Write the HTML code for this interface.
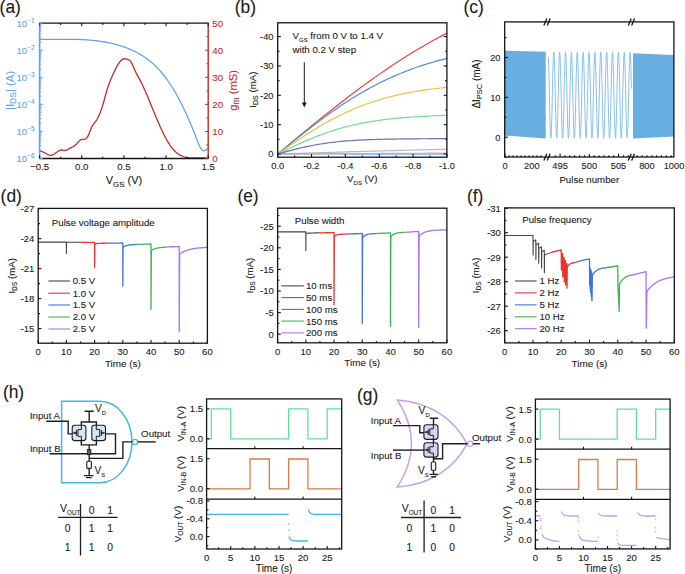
<!DOCTYPE html>
<html><head><meta charset="utf-8"><style>
html,body{margin:0;padding:0;background:#fff;width:685px;height:574px;overflow:hidden}
svg{display:block;font-family:"Liberation Sans",sans-serif}
text{stroke:currentColor;stroke-width:0.1px}
</style></head><body>
<svg width="685" height="574" viewBox="0 0 685 574">
<rect width="685" height="574" fill="#fff"/>
<text transform="translate(-0.4,13.2) scale(1,1.06)" font-size="17.4" text-anchor="start" fill="#1a1a1a" style="color:#1a1a1a" >(a)</text>
<path d="M39.7,39.25 L41.11,39.28 L42.53,39.3 L43.94,39.31 L45.36,39.32 L46.77,39.33 L48.19,39.33 L49.6,39.34 L51.01,39.34 L52.43,39.33 L53.84,39.33 L55.26,39.32 L56.67,39.32 L58.09,39.31 L59.5,39.3 L60.91,39.3 L62.33,39.3 L63.74,39.29 L65.16,39.29 L66.57,39.3 L67.99,39.3 L69.4,39.31 L70.81,39.32 L72.23,39.34 L73.64,39.36 L75.06,39.39 L76.47,39.42 L77.89,39.46 L79.3,39.51 L80.71,39.56 L82.13,39.62 L83.54,39.69 L84.96,39.77 L86.37,39.85 L87.79,39.95 L89.2,40.05 L90.61,40.17 L92.03,40.3 L93.44,40.43 L94.86,40.58 L96.27,40.74 L97.69,40.92 L99.1,41.1 L100.51,41.3 L101.93,41.52 L103.34,41.74 L104.76,41.99 L106.17,42.24 L107.59,42.52 L109,42.81 L110.41,43.11 L111.83,43.44 L113.24,43.78 L114.66,44.14 L116.07,44.52 L117.49,44.91 L118.9,45.33 L120.31,45.76 L121.73,46.22 L123.14,46.69 L124.56,47.19 L125.97,47.71 L127.39,48.25 L128.8,48.81 L130.21,49.4 L131.63,50.01 L133.04,50.65 L134.46,51.32 L135.87,52.01 L137.29,52.74 L138.7,53.51 L140.11,54.31 L141.53,55.16 L142.94,56.04 L144.36,56.97 L145.77,57.94 L147.19,58.96 L148.6,60.04 L150.01,61.16 L151.43,62.34 L152.84,63.57 L154.26,64.87 L155.67,66.22 L157.09,67.64 L158.5,69.12 L159.91,70.67 L161.33,72.29 L162.74,73.98 L164.16,75.74 L165.57,77.58 L166.99,79.5 L168.4,81.5 L169.81,83.58 L171.23,85.74 L172.64,87.98 L174.06,90.3 L175.47,92.71 L176.89,95.2 L178.3,97.78 L179.71,100.44 L181.13,103.18 L182.54,106.01 L183.96,108.92 L185.37,111.92 L186.79,115.01 L188.2,118.18 L189.61,121.44 L191.03,124.78 L192.44,128.22 L193.86,131.74 L195.27,135.35 L196.69,139.04 L198.1,142.67 L199.51,145.97 L200.93,148.64 L202.34,150.4 L203.76,150.96 L205.17,150.4 L206.59,149.45 L208,148.95" stroke="#64a0f0" stroke-width="1.3" fill="none" stroke-linejoin="round" />
<path d="M39.6,151.21 L40.3,151.19 L41,151.27 L41.7,151.44 L42.4,151.69 L43.1,151.99 L43.8,152.34 L44.5,152.72 L45.2,153.11 L45.9,153.52 L46.6,153.91 L47.3,154.28 L48.01,154.61 L48.71,154.89 L49.41,155.1 L50.11,155.24 L50.81,155.29 L51.51,155.23 L52.21,155.05 L52.91,154.78 L53.61,154.42 L54.31,153.99 L55.01,153.52 L55.71,153.01 L56.41,152.49 L57.11,151.98 L57.81,151.49 L58.51,151.03 L59.21,150.64 L59.91,150.32 L60.61,150.1 L61.31,149.98 L62.01,149.98 L62.71,150.05 L63.41,150.17 L64.11,150.27 L64.82,150.33 L65.52,150.3 L66.22,150.15 L66.92,149.89 L67.62,149.56 L68.32,149.17 L69.02,148.75 L69.72,148.33 L70.42,147.93 L71.12,147.56 L71.82,147.21 L72.52,146.86 L73.22,146.5 L73.92,146.1 L74.62,145.64 L75.32,145.1 L76.02,144.46 L76.72,143.72 L77.42,142.93 L78.12,142.13 L78.82,141.37 L79.52,140.69 L80.22,140.13 L80.92,139.74 L81.63,139.52 L82.33,139.43 L83.03,139.4 L83.73,139.38 L84.43,139.31 L85.13,139.13 L85.83,138.78 L86.53,138.21 L87.23,137.36 L87.93,136.16 L88.63,134.64 L89.33,132.9 L90.03,131.07 L90.73,129.27 L91.43,127.64 L92.13,126.27 L92.83,125.13 L93.53,124.14 L94.23,123.25 L94.93,122.37 L95.63,121.43 L96.33,120.39 L97.03,119.25 L97.73,117.99 L98.44,116.62 L99.14,115.12 L99.84,113.5 L100.54,111.74 L101.24,109.85 L101.94,107.81 L102.64,105.61 L103.34,103.27 L104.04,100.76 L104.74,98.15 L105.44,95.5 L106.14,92.9 L106.84,90.4 L107.54,88.09 L108.24,85.98 L108.94,84.04 L109.64,82.23 L110.34,80.51 L111.04,78.83 L111.74,77.18 L112.44,75.56 L113.14,73.97 L113.84,72.43 L114.54,70.93 L115.25,69.49 L115.95,68.1 L116.65,66.79 L117.35,65.55 L118.05,64.39 L118.75,63.32 L119.45,62.34 L120.15,61.47 L120.85,60.7 L121.55,60.05 L122.25,59.52 L122.95,59.12 L123.65,58.85 L124.35,58.73 L125.05,58.74 L125.75,58.86 L126.45,59.05 L127.15,59.27 L127.85,59.49 L128.55,59.73 L129.25,60.07 L129.95,60.6 L130.65,61.4 L131.35,62.5 L132.06,63.84 L132.76,65.35 L133.46,66.97 L134.16,68.63 L134.86,70.26 L135.56,71.81 L136.26,73.25 L136.96,74.61 L137.66,75.91 L138.36,77.17 L139.06,78.43 L139.76,79.69 L140.46,81 L141.16,82.36 L141.86,83.76 L142.56,85.2 L143.26,86.68 L143.96,88.2 L144.66,89.75 L145.36,91.34 L146.06,92.95 L146.76,94.58 L147.46,96.24 L148.16,97.92 L148.87,99.6 L149.57,101.31 L150.27,103.02 L150.97,104.73 L151.67,106.45 L152.37,108.17 L153.07,109.88 L153.77,111.59 L154.47,113.29 L155.17,114.99 L155.87,116.67 L156.57,118.34 L157.27,119.99 L157.97,121.63 L158.67,123.24 L159.37,124.84 L160.07,126.41 L160.77,127.96 L161.47,129.49 L162.17,130.98 L162.87,132.45 L163.57,133.88 L164.27,135.28 L164.97,136.64 L165.68,137.97 L166.38,139.26 L167.08,140.5 L167.78,141.7 L168.48,142.86 L169.18,143.97 L169.88,145.03 L170.58,146.04 L171.28,147 L171.98,147.9 L172.68,148.76 L173.38,149.56 L174.08,150.32 L174.78,151.03 L175.48,151.7 L176.18,152.32 L176.88,152.9 L177.58,153.45 L178.28,153.95 L178.98,154.41 L179.68,154.84 L180.38,155.23 L181.08,155.59 L181.78,155.92 L182.49,156.22 L183.19,156.48 L183.89,156.72 L184.59,156.94 L185.29,157.13 L185.99,157.29 L186.69,157.43 L187.39,157.56 L188.09,157.66 L188.79,157.74 L189.49,157.81 L190.19,157.86 L190.89,157.9 L191.59,157.93 L192.29,157.95 L192.99,157.96 L193.69,157.96 L194.39,157.95 L195.09,157.94 L195.79,157.92 L196.49,157.9 L197.19,157.89 L197.89,157.87 L198.59,157.85 L199.3,157.84 L200,157.83 L200.7,157.83 L201.4,157.83 L202.1,157.85 L202.8,157.88 L203.5,157.91 L204.2,157.96 L204.9,158.03 L205.6,158.11 L206.3,158.21 L207,158.33" stroke="#c42a26" stroke-width="1.3" fill="none" stroke-linejoin="round" />
<line x1="39.6" y1="23.1" x2="208.2" y2="23.1" stroke="#141414" stroke-width="1.3" />
<line x1="39.6" y1="158.5" x2="208.2" y2="158.5" stroke="#141414" stroke-width="1.3" />
<line x1="39.6" y1="22.5" x2="39.6" y2="159.1" stroke="#64a0f0" stroke-width="1.6" />
<line x1="208.2" y1="22.5" x2="208.2" y2="159.1" stroke="#c42a26" stroke-width="1.4" />
<line x1="39.6" y1="158.5" x2="39.6" y2="155.3" stroke="#141414" stroke-width="1.1" />
<line x1="39.6" y1="23.1" x2="39.6" y2="26.3" stroke="#141414" stroke-width="1.1" />
<line x1="81.75" y1="158.5" x2="81.75" y2="155.3" stroke="#141414" stroke-width="1.1" />
<line x1="81.75" y1="23.1" x2="81.75" y2="26.3" stroke="#141414" stroke-width="1.1" />
<line x1="123.9" y1="158.5" x2="123.9" y2="155.3" stroke="#141414" stroke-width="1.1" />
<line x1="123.9" y1="23.1" x2="123.9" y2="26.3" stroke="#141414" stroke-width="1.1" />
<line x1="166.05" y1="158.5" x2="166.05" y2="155.3" stroke="#141414" stroke-width="1.1" />
<line x1="166.05" y1="23.1" x2="166.05" y2="26.3" stroke="#141414" stroke-width="1.1" />
<line x1="208.2" y1="158.5" x2="208.2" y2="155.3" stroke="#141414" stroke-width="1.1" />
<line x1="208.2" y1="23.1" x2="208.2" y2="26.3" stroke="#141414" stroke-width="1.1" />
<line x1="60.67" y1="158.5" x2="60.67" y2="156.7" stroke="#141414" stroke-width="1.1" />
<line x1="60.67" y1="23.1" x2="60.67" y2="24.9" stroke="#141414" stroke-width="1.1" />
<line x1="102.82" y1="158.5" x2="102.82" y2="156.7" stroke="#141414" stroke-width="1.1" />
<line x1="102.82" y1="23.1" x2="102.82" y2="24.9" stroke="#141414" stroke-width="1.1" />
<line x1="144.97" y1="158.5" x2="144.97" y2="156.7" stroke="#141414" stroke-width="1.1" />
<line x1="144.97" y1="23.1" x2="144.97" y2="24.9" stroke="#141414" stroke-width="1.1" />
<line x1="187.12" y1="158.5" x2="187.12" y2="156.7" stroke="#141414" stroke-width="1.1" />
<line x1="187.12" y1="23.1" x2="187.12" y2="24.9" stroke="#141414" stroke-width="1.1" />
<text transform="translate(39.6,169.81)" font-size="9.6" text-anchor="middle" fill="#1a1a1a" style="color:#1a1a1a" >−0.5</text>
<text transform="translate(81.75,169.81)" font-size="9.6" text-anchor="middle" fill="#1a1a1a" style="color:#1a1a1a" >0.0</text>
<text transform="translate(123.9,169.81)" font-size="9.6" text-anchor="middle" fill="#1a1a1a" style="color:#1a1a1a" >0.5</text>
<text transform="translate(166.05,169.81)" font-size="9.6" text-anchor="middle" fill="#1a1a1a" style="color:#1a1a1a" >1.0</text>
<text transform="translate(208.2,169.81)" font-size="9.6" text-anchor="middle" fill="#1a1a1a" style="color:#1a1a1a" >1.5</text>
<line x1="39.6" y1="23.1" x2="42.8" y2="23.1" stroke="#64a0f0" stroke-width="1.0" />
<line x1="39.6" y1="42.03" x2="41.4" y2="42.03" stroke="#64a0f0" stroke-width="0.9" />
<line x1="39.6" y1="37.26" x2="41.4" y2="37.26" stroke="#64a0f0" stroke-width="0.9" />
<line x1="39.6" y1="33.88" x2="41.4" y2="33.88" stroke="#64a0f0" stroke-width="0.9" />
<line x1="39.6" y1="31.25" x2="41.4" y2="31.25" stroke="#64a0f0" stroke-width="0.9" />
<line x1="39.6" y1="29.11" x2="41.4" y2="29.11" stroke="#64a0f0" stroke-width="0.9" />
<line x1="39.6" y1="27.29" x2="41.4" y2="27.29" stroke="#64a0f0" stroke-width="0.9" />
<line x1="39.6" y1="25.72" x2="41.4" y2="25.72" stroke="#64a0f0" stroke-width="0.9" />
<line x1="39.6" y1="24.34" x2="41.4" y2="24.34" stroke="#64a0f0" stroke-width="0.9" />
<text transform="translate(34.6,26.6)" font-size="9.6" text-anchor="end" fill="#64a0f0" style="color:#64a0f0" >10<tspan font-size="6.53" dy="-3.65">−1</tspan><tspan dy="3.65">&#8203;</tspan></text>
<line x1="39.6" y1="50.18" x2="42.8" y2="50.18" stroke="#64a0f0" stroke-width="1.0" />
<line x1="39.6" y1="69.11" x2="41.4" y2="69.11" stroke="#64a0f0" stroke-width="0.9" />
<line x1="39.6" y1="64.34" x2="41.4" y2="64.34" stroke="#64a0f0" stroke-width="0.9" />
<line x1="39.6" y1="60.96" x2="41.4" y2="60.96" stroke="#64a0f0" stroke-width="0.9" />
<line x1="39.6" y1="58.33" x2="41.4" y2="58.33" stroke="#64a0f0" stroke-width="0.9" />
<line x1="39.6" y1="56.19" x2="41.4" y2="56.19" stroke="#64a0f0" stroke-width="0.9" />
<line x1="39.6" y1="54.37" x2="41.4" y2="54.37" stroke="#64a0f0" stroke-width="0.9" />
<line x1="39.6" y1="52.8" x2="41.4" y2="52.8" stroke="#64a0f0" stroke-width="0.9" />
<line x1="39.6" y1="51.42" x2="41.4" y2="51.42" stroke="#64a0f0" stroke-width="0.9" />
<text transform="translate(34.6,53.68)" font-size="9.6" text-anchor="end" fill="#64a0f0" style="color:#64a0f0" >10<tspan font-size="6.53" dy="-3.65">−2</tspan><tspan dy="3.65">&#8203;</tspan></text>
<line x1="39.6" y1="77.26" x2="42.8" y2="77.26" stroke="#64a0f0" stroke-width="1.0" />
<line x1="39.6" y1="96.19" x2="41.4" y2="96.19" stroke="#64a0f0" stroke-width="0.9" />
<line x1="39.6" y1="91.42" x2="41.4" y2="91.42" stroke="#64a0f0" stroke-width="0.9" />
<line x1="39.6" y1="88.04" x2="41.4" y2="88.04" stroke="#64a0f0" stroke-width="0.9" />
<line x1="39.6" y1="85.41" x2="41.4" y2="85.41" stroke="#64a0f0" stroke-width="0.9" />
<line x1="39.6" y1="83.27" x2="41.4" y2="83.27" stroke="#64a0f0" stroke-width="0.9" />
<line x1="39.6" y1="81.45" x2="41.4" y2="81.45" stroke="#64a0f0" stroke-width="0.9" />
<line x1="39.6" y1="79.88" x2="41.4" y2="79.88" stroke="#64a0f0" stroke-width="0.9" />
<line x1="39.6" y1="78.5" x2="41.4" y2="78.5" stroke="#64a0f0" stroke-width="0.9" />
<text transform="translate(34.6,80.76)" font-size="9.6" text-anchor="end" fill="#64a0f0" style="color:#64a0f0" >10<tspan font-size="6.53" dy="-3.65">−3</tspan><tspan dy="3.65">&#8203;</tspan></text>
<line x1="39.6" y1="104.34" x2="42.8" y2="104.34" stroke="#64a0f0" stroke-width="1.0" />
<line x1="39.6" y1="123.27" x2="41.4" y2="123.27" stroke="#64a0f0" stroke-width="0.9" />
<line x1="39.6" y1="118.5" x2="41.4" y2="118.5" stroke="#64a0f0" stroke-width="0.9" />
<line x1="39.6" y1="115.12" x2="41.4" y2="115.12" stroke="#64a0f0" stroke-width="0.9" />
<line x1="39.6" y1="112.49" x2="41.4" y2="112.49" stroke="#64a0f0" stroke-width="0.9" />
<line x1="39.6" y1="110.35" x2="41.4" y2="110.35" stroke="#64a0f0" stroke-width="0.9" />
<line x1="39.6" y1="108.53" x2="41.4" y2="108.53" stroke="#64a0f0" stroke-width="0.9" />
<line x1="39.6" y1="106.96" x2="41.4" y2="106.96" stroke="#64a0f0" stroke-width="0.9" />
<line x1="39.6" y1="105.58" x2="41.4" y2="105.58" stroke="#64a0f0" stroke-width="0.9" />
<text transform="translate(34.6,107.84)" font-size="9.6" text-anchor="end" fill="#64a0f0" style="color:#64a0f0" >10<tspan font-size="6.53" dy="-3.65">−4</tspan><tspan dy="3.65">&#8203;</tspan></text>
<line x1="39.6" y1="131.42" x2="42.8" y2="131.42" stroke="#64a0f0" stroke-width="1.0" />
<line x1="39.6" y1="150.35" x2="41.4" y2="150.35" stroke="#64a0f0" stroke-width="0.9" />
<line x1="39.6" y1="145.58" x2="41.4" y2="145.58" stroke="#64a0f0" stroke-width="0.9" />
<line x1="39.6" y1="142.2" x2="41.4" y2="142.2" stroke="#64a0f0" stroke-width="0.9" />
<line x1="39.6" y1="139.57" x2="41.4" y2="139.57" stroke="#64a0f0" stroke-width="0.9" />
<line x1="39.6" y1="137.43" x2="41.4" y2="137.43" stroke="#64a0f0" stroke-width="0.9" />
<line x1="39.6" y1="135.61" x2="41.4" y2="135.61" stroke="#64a0f0" stroke-width="0.9" />
<line x1="39.6" y1="134.04" x2="41.4" y2="134.04" stroke="#64a0f0" stroke-width="0.9" />
<line x1="39.6" y1="132.66" x2="41.4" y2="132.66" stroke="#64a0f0" stroke-width="0.9" />
<text transform="translate(34.6,134.92)" font-size="9.6" text-anchor="end" fill="#64a0f0" style="color:#64a0f0" >10<tspan font-size="6.53" dy="-3.65">−5</tspan><tspan dy="3.65">&#8203;</tspan></text>
<line x1="39.6" y1="158.5" x2="42.8" y2="158.5" stroke="#64a0f0" stroke-width="1.0" />
<text transform="translate(34.6,162)" font-size="9.6" text-anchor="end" fill="#64a0f0" style="color:#64a0f0" >10<tspan font-size="6.53" dy="-3.65">−6</tspan><tspan dy="3.65">&#8203;</tspan></text>
<line x1="208.2" y1="158.5" x2="205" y2="158.5" stroke="#c42a26" stroke-width="1.0" />
<text transform="translate(212.3,162)" font-size="9.7" text-anchor="start" fill="#c42a26" style="color:#c42a26" >0</text>
<line x1="208.2" y1="131.42" x2="205" y2="131.42" stroke="#c42a26" stroke-width="1.0" />
<text transform="translate(212.3,134.92)" font-size="9.7" text-anchor="start" fill="#c42a26" style="color:#c42a26" >10</text>
<line x1="208.2" y1="104.34" x2="205" y2="104.34" stroke="#c42a26" stroke-width="1.0" />
<text transform="translate(212.3,107.84)" font-size="9.7" text-anchor="start" fill="#c42a26" style="color:#c42a26" >20</text>
<line x1="208.2" y1="77.26" x2="205" y2="77.26" stroke="#c42a26" stroke-width="1.0" />
<text transform="translate(212.3,80.76)" font-size="9.7" text-anchor="start" fill="#c42a26" style="color:#c42a26" >30</text>
<line x1="208.2" y1="50.18" x2="205" y2="50.18" stroke="#c42a26" stroke-width="1.0" />
<text transform="translate(212.3,53.68)" font-size="9.7" text-anchor="start" fill="#c42a26" style="color:#c42a26" >40</text>
<line x1="208.2" y1="23.1" x2="205" y2="23.1" stroke="#c42a26" stroke-width="1.0" />
<text transform="translate(212.3,26.6)" font-size="9.7" text-anchor="start" fill="#c42a26" style="color:#c42a26" >50</text>
<line x1="208.2" y1="144.96" x2="206.4" y2="144.96" stroke="#c42a26" stroke-width="1.0" />
<line x1="208.2" y1="117.88" x2="206.4" y2="117.88" stroke="#c42a26" stroke-width="1.0" />
<line x1="208.2" y1="90.8" x2="206.4" y2="90.8" stroke="#c42a26" stroke-width="1.0" />
<line x1="208.2" y1="63.72" x2="206.4" y2="63.72" stroke="#c42a26" stroke-width="1.0" />
<line x1="208.2" y1="36.64" x2="206.4" y2="36.64" stroke="#c42a26" stroke-width="1.0" />
<text transform="translate(124,184)" font-size="11" text-anchor="middle" fill="#1a1a1a" style="color:#1a1a1a" >V<tspan font-size="7.92" dy="2.75">GS</tspan><tspan dy="-2.75">&#8203;</tspan> (V)</text>
<text transform="translate(13.8,90.4) rotate(-90)" font-size="11.3" text-anchor="middle" fill="#64a0f0" style="color:#64a0f0" >|I<tspan font-size="8.59" dy="2.26">DS</tspan><tspan dy="-2.26">&#8203;</tspan>| (A)</text>
<text transform="translate(237,90.3) rotate(-90)" font-size="11.3" text-anchor="middle" fill="#c42a26" style="color:#c42a26" >g<tspan font-size="8.36" dy="1.92">m</tspan><tspan dy="-1.92">&#8203;</tspan> (mS)</text>
<text transform="translate(234.8,13) scale(1,1.06)" font-size="17.4" text-anchor="start" fill="#1a1a1a" style="color:#1a1a1a" >(b)</text>
<path d="M277.7,154 L280.57,151.61 L283.44,149.23 L286.3,146.84 L289.17,144.46 L292.04,142.08 L294.91,139.7 L297.77,137.33 L300.64,134.96 L303.51,132.59 L306.38,130.24 L309.25,127.89 L312.11,125.55 L314.98,123.21 L317.85,120.89 L320.72,118.57 L323.58,116.27 L326.45,113.97 L329.32,111.69 L332.19,109.42 L335.06,107.16 L337.92,104.92 L340.79,102.68 L343.66,100.47 L346.53,98.26 L349.39,96.07 L352.26,93.9 L355.13,91.74 L358,89.6 L360.87,87.48 L363.73,85.38 L366.6,83.29 L369.47,81.22 L372.34,79.17 L375.21,77.13 L378.07,75.12 L380.94,73.13 L383.81,71.15 L386.68,69.2 L389.54,67.26 L392.41,65.35 L395.28,63.46 L398.15,61.59 L401.02,59.74 L403.88,57.91 L406.75,56.1 L409.62,54.32 L412.49,52.56 L415.35,50.81 L418.22,49.09 L421.09,47.4 L423.96,45.72 L426.83,44.07 L429.69,42.44 L432.56,40.83 L435.43,39.25 L438.3,37.68 L441.16,36.14 L444.03,34.62 L446.9,33.13" stroke="#e8413a" stroke-width="1.2" fill="none" stroke-linejoin="round" />
<path d="M277.7,154 L280.57,151.66 L283.44,149.33 L286.3,146.99 L289.17,144.67 L292.04,142.35 L294.91,140.04 L297.77,137.74 L300.64,135.46 L303.51,133.19 L306.38,130.94 L309.25,128.71 L312.11,126.49 L314.98,124.3 L317.85,122.13 L320.72,119.99 L323.58,117.87 L326.45,115.78 L329.32,113.71 L332.19,111.68 L335.06,109.68 L337.92,107.71 L340.79,105.77 L343.66,103.86 L346.53,101.99 L349.39,100.15 L352.26,98.35 L355.13,96.58 L358,94.85 L360.87,93.15 L363.73,91.49 L366.6,89.87 L369.47,88.28 L372.34,86.74 L375.21,85.22 L378.07,83.75 L380.94,82.31 L383.81,80.91 L386.68,79.54 L389.54,78.21 L392.41,76.91 L395.28,75.65 L398.15,74.43 L401.02,73.24 L403.88,72.08 L406.75,70.96 L409.62,69.86 L412.49,68.81 L415.35,67.78 L418.22,66.78 L421.09,65.82 L423.96,64.88 L426.83,63.98 L429.69,63.1 L432.56,62.25 L435.43,61.43 L438.3,60.63 L441.16,59.86 L444.03,59.12 L446.9,58.4" stroke="#4d8cd6" stroke-width="1.2" fill="none" stroke-linejoin="round" />
<path d="M277.7,154 L280.57,152.01 L283.44,150.02 L286.3,148.04 L289.17,146.07 L292.04,144.11 L294.91,142.17 L297.77,140.24 L300.64,138.34 L303.51,136.45 L306.38,134.59 L309.25,132.76 L312.11,130.96 L314.98,129.19 L317.85,127.46 L320.72,125.76 L323.58,124.09 L326.45,122.47 L329.32,120.88 L332.19,119.33 L335.06,117.82 L337.92,116.36 L340.79,114.93 L343.66,113.55 L346.53,112.21 L349.39,110.92 L352.26,109.66 L355.13,108.45 L358,107.28 L360.87,106.15 L363.73,105.06 L366.6,104.01 L369.47,103.01 L372.34,102.04 L375.21,101.1 L378.07,100.21 L380.94,99.35 L383.81,98.53 L386.68,97.74 L389.54,96.98 L392.41,96.26 L395.28,95.57 L398.15,94.91 L401.02,94.28 L403.88,93.67 L406.75,93.1 L409.62,92.55 L412.49,92.02 L415.35,91.53 L418.22,91.05 L421.09,90.6 L423.96,90.16 L426.83,89.75 L429.69,89.36 L432.56,88.99 L435.43,88.63 L438.3,88.3 L441.16,87.98 L444.03,87.67 L446.9,87.38" stroke="#e8c144" stroke-width="1.2" fill="none" stroke-linejoin="round" />
<path d="M277.7,154 L280.57,152.61 L283.44,151.22 L286.3,149.84 L289.17,148.46 L292.04,147.11 L294.91,145.76 L297.77,144.44 L300.64,143.14 L303.51,141.86 L306.38,140.61 L309.25,139.39 L312.11,138.2 L314.98,137.04 L317.85,135.92 L320.72,134.83 L323.58,133.77 L326.45,132.76 L329.32,131.78 L332.19,130.83 L335.06,129.93 L337.92,129.06 L340.79,128.23 L343.66,127.44 L346.53,126.68 L349.39,125.96 L352.26,125.27 L355.13,124.61 L358,123.99 L360.87,123.4 L363.73,122.84 L366.6,122.31 L369.47,121.81 L372.34,121.34 L375.21,120.89 L378.07,120.47 L380.94,120.07 L383.81,119.7 L386.68,119.34 L389.54,119.01 L392.41,118.7 L395.28,118.4 L398.15,118.13 L401.02,117.87 L403.88,117.62 L406.75,117.39 L409.62,117.18 L412.49,116.98 L415.35,116.79 L418.22,116.61 L421.09,116.45 L423.96,116.29 L426.83,116.15 L429.69,116.01 L432.56,115.89 L435.43,115.77 L438.3,115.66 L441.16,115.55 L444.03,115.45 L446.9,115.36" stroke="#6fde8e" stroke-width="1.2" fill="none" stroke-linejoin="round" />
<path d="M277.7,154 L280.57,153.2 L283.44,152.41 L286.3,151.63 L289.17,150.86 L292.04,150.11 L294.91,149.37 L297.77,148.66 L300.64,147.97 L303.51,147.31 L306.38,146.68 L309.25,146.08 L312.11,145.51 L314.98,144.97 L317.85,144.46 L320.72,143.99 L323.58,143.54 L326.45,143.13 L329.32,142.74 L332.19,142.39 L335.06,142.06 L337.92,141.75 L340.79,141.47 L343.66,141.21 L346.53,140.97 L349.39,140.76 L352.26,140.56 L355.13,140.38 L358,140.21 L360.87,140.06 L363.73,139.92 L366.6,139.8 L369.47,139.68 L372.34,139.58 L375.21,139.48 L378.07,139.4 L380.94,139.32 L383.81,139.25 L386.68,139.19 L389.54,139.13 L392.41,139.08 L395.28,139.03 L398.15,138.99 L401.02,138.95 L403.88,138.91 L406.75,138.88 L409.62,138.86 L412.49,138.83 L415.35,138.81 L418.22,138.79 L421.09,138.77 L423.96,138.75 L426.83,138.73 L429.69,138.72 L432.56,138.71 L435.43,138.7 L438.3,138.69 L441.16,138.68 L444.03,138.67 L446.9,138.66" stroke="#6d6fae" stroke-width="1.2" fill="none" stroke-linejoin="round" />
<path d="M277.7,154 L280.57,153.91 L283.44,153.82 L286.3,153.73 L289.17,153.64 L292.04,153.55 L294.91,153.46 L297.77,153.37 L300.64,153.29 L303.51,153.2 L306.38,153.11 L309.25,153.02 L312.11,152.93 L314.98,152.84 L317.85,152.75 L320.72,152.67 L323.58,152.58 L326.45,152.49 L329.32,152.41 L332.19,152.32 L335.06,152.23 L337.92,152.15 L340.79,152.06 L343.66,151.98 L346.53,151.89 L349.39,151.81 L352.26,151.72 L355.13,151.64 L358,151.56 L360.87,151.48 L363.73,151.39 L366.6,151.31 L369.47,151.23 L372.34,151.15 L375.21,151.07 L378.07,150.99 L380.94,150.91 L383.81,150.83 L386.68,150.76 L389.54,150.68 L392.41,150.6 L395.28,150.53 L398.15,150.45 L401.02,150.38 L403.88,150.3 L406.75,150.23 L409.62,150.16 L412.49,150.09 L415.35,150.01 L418.22,149.94 L421.09,149.87 L423.96,149.8 L426.83,149.73 L429.69,149.67 L432.56,149.6 L435.43,149.53 L438.3,149.47 L441.16,149.4 L444.03,149.34 L446.9,149.27" stroke="#b8b8b8" stroke-width="1.2" fill="none" stroke-linejoin="round" />
<path d="M277.7,154 L280.57,153.99 L283.44,153.97 L286.3,153.96 L289.17,153.94 L292.04,153.93 L294.91,153.91 L297.77,153.9 L300.64,153.88 L303.51,153.87 L306.38,153.85 L309.25,153.84 L312.11,153.82 L314.98,153.81 L317.85,153.79 L320.72,153.78 L323.58,153.76 L326.45,153.75 L329.32,153.73 L332.19,153.72 L335.06,153.7 L337.92,153.69 L340.79,153.67 L343.66,153.66 L346.53,153.64 L349.39,153.63 L352.26,153.61 L355.13,153.6 L358,153.58 L360.87,153.57 L363.73,153.55 L366.6,153.54 L369.47,153.52 L372.34,153.51 L375.21,153.49 L378.07,153.48 L380.94,153.46 L383.81,153.45 L386.68,153.43 L389.54,153.42 L392.41,153.4 L395.28,153.39 L398.15,153.37 L401.02,153.36 L403.88,153.34 L406.75,153.33 L409.62,153.31 L412.49,153.3 L415.35,153.28 L418.22,153.27 L421.09,153.25 L423.96,153.24 L426.83,153.22 L429.69,153.21 L432.56,153.19 L435.43,153.18 L438.3,153.16 L441.16,153.15 L444.03,153.13 L446.9,153.12" stroke="#f2a0a0" stroke-width="1.2" fill="none" stroke-linejoin="round" />
<path d="M277.7,154 L280.57,154 L283.44,154 L286.3,154 L289.17,154 L292.04,154 L294.91,154.01 L297.77,154.01 L300.64,154.01 L303.51,154.01 L306.38,154.01 L309.25,154.01 L312.11,154.01 L314.98,154.01 L317.85,154.01 L320.72,154.01 L323.58,154.02 L326.45,154.02 L329.32,154.02 L332.19,154.02 L335.06,154.02 L337.92,154.02 L340.79,154.02 L343.66,154.02 L346.53,154.02 L349.39,154.02 L352.26,154.03 L355.13,154.03 L358,154.03 L360.87,154.03 L363.73,154.03 L366.6,154.03 L369.47,154.03 L372.34,154.03 L375.21,154.03 L378.07,154.03 L380.94,154.04 L383.81,154.04 L386.68,154.04 L389.54,154.04 L392.41,154.04 L395.28,154.04 L398.15,154.04 L401.02,154.04 L403.88,154.04 L406.75,154.04 L409.62,154.05 L412.49,154.05 L415.35,154.05 L418.22,154.05 L421.09,154.05 L423.96,154.05 L426.83,154.05 L429.69,154.05 L432.56,154.05 L435.43,154.05 L438.3,154.06 L441.16,154.06 L444.03,154.06 L446.9,154.06" stroke="#7ab8ec" stroke-width="1.2" fill="none" stroke-linejoin="round" />
<rect x="277.7" y="22.8" width="169.2" height="134.4" stroke="#141414" stroke-width="1.3" fill="none" rx="0"/>
<line x1="277.7" y1="154" x2="280.9" y2="154" stroke="#141414" stroke-width="1.1" />
<line x1="446.9" y1="154" x2="443.7" y2="154" stroke="#141414" stroke-width="1.1" />
<text transform="translate(273.5,157.3)" font-size="9.3" text-anchor="end" fill="#1a1a1a" style="color:#1a1a1a" >0</text>
<line x1="277.7" y1="124.65" x2="280.9" y2="124.65" stroke="#141414" stroke-width="1.1" />
<line x1="446.9" y1="124.65" x2="443.7" y2="124.65" stroke="#141414" stroke-width="1.1" />
<text transform="translate(273.5,127.95)" font-size="9.3" text-anchor="end" fill="#1a1a1a" style="color:#1a1a1a" >-10</text>
<line x1="277.7" y1="95.3" x2="280.9" y2="95.3" stroke="#141414" stroke-width="1.1" />
<line x1="446.9" y1="95.3" x2="443.7" y2="95.3" stroke="#141414" stroke-width="1.1" />
<text transform="translate(273.5,98.6)" font-size="9.3" text-anchor="end" fill="#1a1a1a" style="color:#1a1a1a" >-20</text>
<line x1="277.7" y1="65.95" x2="280.9" y2="65.95" stroke="#141414" stroke-width="1.1" />
<line x1="446.9" y1="65.95" x2="443.7" y2="65.95" stroke="#141414" stroke-width="1.1" />
<text transform="translate(273.5,69.25)" font-size="9.3" text-anchor="end" fill="#1a1a1a" style="color:#1a1a1a" >-30</text>
<line x1="277.7" y1="36.6" x2="280.9" y2="36.6" stroke="#141414" stroke-width="1.1" />
<line x1="446.9" y1="36.6" x2="443.7" y2="36.6" stroke="#141414" stroke-width="1.1" />
<text transform="translate(273.5,39.9)" font-size="9.3" text-anchor="end" fill="#1a1a1a" style="color:#1a1a1a" >-40</text>
<line x1="277.7" y1="139.32" x2="279.5" y2="139.32" stroke="#141414" stroke-width="1.1" />
<line x1="446.9" y1="139.32" x2="445.1" y2="139.32" stroke="#141414" stroke-width="1.1" />
<line x1="277.7" y1="109.97" x2="279.5" y2="109.97" stroke="#141414" stroke-width="1.1" />
<line x1="446.9" y1="109.97" x2="445.1" y2="109.97" stroke="#141414" stroke-width="1.1" />
<line x1="277.7" y1="80.62" x2="279.5" y2="80.62" stroke="#141414" stroke-width="1.1" />
<line x1="446.9" y1="80.62" x2="445.1" y2="80.62" stroke="#141414" stroke-width="1.1" />
<line x1="277.7" y1="51.27" x2="279.5" y2="51.27" stroke="#141414" stroke-width="1.1" />
<line x1="446.9" y1="51.27" x2="445.1" y2="51.27" stroke="#141414" stroke-width="1.1" />
<line x1="277.7" y1="157.2" x2="277.7" y2="154" stroke="#141414" stroke-width="1.1" />
<line x1="294.62" y1="157.2" x2="294.62" y2="155.4" stroke="#141414" stroke-width="1.1" />
<line x1="311.54" y1="157.2" x2="311.54" y2="154" stroke="#141414" stroke-width="1.1" />
<line x1="328.46" y1="157.2" x2="328.46" y2="155.4" stroke="#141414" stroke-width="1.1" />
<line x1="345.38" y1="157.2" x2="345.38" y2="154" stroke="#141414" stroke-width="1.1" />
<line x1="362.3" y1="157.2" x2="362.3" y2="155.4" stroke="#141414" stroke-width="1.1" />
<line x1="379.22" y1="157.2" x2="379.22" y2="154" stroke="#141414" stroke-width="1.1" />
<line x1="396.14" y1="157.2" x2="396.14" y2="155.4" stroke="#141414" stroke-width="1.1" />
<line x1="413.06" y1="157.2" x2="413.06" y2="154" stroke="#141414" stroke-width="1.1" />
<line x1="429.98" y1="157.2" x2="429.98" y2="155.4" stroke="#141414" stroke-width="1.1" />
<line x1="446.9" y1="157.2" x2="446.9" y2="154" stroke="#141414" stroke-width="1.1" />
<text transform="translate(277.7,169.1)" font-size="9.3" text-anchor="middle" fill="#1a1a1a" style="color:#1a1a1a" >0.0</text>
<text transform="translate(311.54,169.1)" font-size="9.3" text-anchor="middle" fill="#1a1a1a" style="color:#1a1a1a" >-0.2</text>
<text transform="translate(345.38,169.1)" font-size="9.3" text-anchor="middle" fill="#1a1a1a" style="color:#1a1a1a" >-0.4</text>
<text transform="translate(379.22,169.1)" font-size="9.3" text-anchor="middle" fill="#1a1a1a" style="color:#1a1a1a" >-0.6</text>
<text transform="translate(413.06,169.1)" font-size="9.3" text-anchor="middle" fill="#1a1a1a" style="color:#1a1a1a" >-0.8</text>
<text transform="translate(446.9,169.1)" font-size="9.3" text-anchor="middle" fill="#1a1a1a" style="color:#1a1a1a" >-1.0</text>
<text transform="translate(292.5,38.8)" font-size="9.7" text-anchor="start" fill="#1a1a1a" style="color:#1a1a1a" >V<tspan font-size="6.01" dy="2.91">GS</tspan><tspan dy="-2.91">&#8203;</tspan> from 0 V to 1.4 V</text>
<text transform="translate(292.5,52.5)" font-size="9.7" text-anchor="start" fill="#1a1a1a" style="color:#1a1a1a" >with 0.2 V step</text>
<line x1="304.3" y1="62.3" x2="304.3" y2="104" stroke="#141414" stroke-width="1.0" />
<path d="M301.9,102.5 L304.3,107.5 L306.7,102.5 Z" fill="#1a1a1a"/>
<text transform="translate(362.3,182.2)" font-size="9.7" text-anchor="middle" fill="#1a1a1a" style="color:#1a1a1a" >V<tspan font-size="6.01" dy="2.91">DS</tspan><tspan dy="-2.91">&#8203;</tspan> (V)</text>
<text transform="translate(256.3,89.6) rotate(-90)" font-size="9.7" text-anchor="middle" fill="#1a1a1a" style="color:#1a1a1a" >I<tspan font-size="6.98" dy="1.94">DS</tspan><tspan dy="-1.94">&#8203;</tspan> (mA)</text>
<text transform="translate(463.4,13.2) scale(1,1.06)" font-size="17.4" text-anchor="start" fill="#1a1a1a" style="color:#1a1a1a" >(c)</text>
<path d="M504.7,50.6 L545.7,51.8 L545.7,138.4 L504.7,135.6 Z" fill="#68aee0"/>
<path d="M633,53.2 L673.9,55.0 L673.9,136.4 L633,138.4 Z" fill="#68aee0"/>
<path d="M548.4,57.53 L548.5,59.98 L548.6,62.84 L548.7,66.07 L548.8,69.65 L548.9,73.52 L549,77.65 L549.11,81.97 L549.21,86.45 L549.31,91.04 L549.41,95.67 L549.51,100.3 L549.61,104.86 L549.71,109.32 L549.81,113.61 L549.91,117.68 L550.01,121.5 L550.11,125.01 L550.21,128.17 L550.31,130.95 L550.42,133.32 L550.52,135.24 L550.62,136.69 L550.72,137.67 L550.82,138.15 L550.92,138.13 L551.02,137.61 L551.12,136.6 L551.22,135.11 L551.32,133.15 L551.42,130.75 L551.52,127.94 L551.62,124.75 L551.73,121.22 L551.83,117.38 L551.93,113.29 L552.03,108.98 L552.13,104.52 L552.23,99.94 L552.33,95.31 L552.43,90.68 L552.53,86.11 L552.63,81.63 L552.73,77.32 L552.83,73.21 L552.93,69.36 L553.04,65.81 L553.14,62.61 L553.24,59.78 L553.34,57.36 L553.44,55.38 L553.54,53.86 L553.64,52.83 L553.74,52.29 L553.84,52.24 L553.94,52.7 L554.04,53.65 L554.14,55.08 L554.24,56.98 L554.35,59.32 L554.45,62.08 L554.55,65.23 L554.65,68.72 L554.75,72.52 L554.85,76.59 L554.95,80.87 L555.05,85.32 L555.15,89.88 L555.25,94.5 L555.35,99.14 L555.45,103.72 L555.55,108.21 L555.66,112.55 L555.76,116.68 L555.86,120.57 L555.96,124.16 L556.06,127.41 L556.16,130.29 L556.26,132.76 L556.36,134.8 L556.46,136.37 L556.56,137.47 L556.66,138.07 L556.76,138.18 L556.86,137.79 L556.97,136.9 L557.07,135.53 L557.17,133.68 L557.27,131.4 L557.37,128.69 L557.47,125.59 L557.57,122.14 L557.67,118.37 L557.77,114.34 L557.87,110.08 L557.97,105.65 L558.07,101.1 L558.17,96.48 L558.28,91.84 L558.38,87.25 L558.48,82.75 L558.58,78.39 L558.68,74.22 L558.78,70.31 L558.88,66.68 L558.98,63.38 L559.08,60.45 L559.18,57.92 L559.28,55.83 L559.38,54.2 L559.48,53.04 L559.59,52.38 L559.69,52.21 L559.79,52.54 L559.89,53.36 L559.99,54.68 L560.09,56.46 L560.19,58.69 L560.29,61.35 L560.39,64.4 L560.49,67.81 L560.59,71.54 L560.69,75.54 L560.79,79.77 L560.9,84.19 L561,88.72 L561.1,93.34 L561.2,97.97 L561.3,102.58 L561.4,107.09 L561.5,111.47 L561.6,115.66 L561.7,119.62 L561.8,123.29 L561.9,126.63 L562,129.6 L562.1,132.18 L562.21,134.33 L562.31,136.02 L562.41,137.24 L562.51,137.97 L562.61,138.2 L562.71,137.93 L562.81,137.17 L562.91,135.92 L563.01,134.19 L563.11,132.01 L563.21,129.41 L563.31,126.4 L563.41,123.03 L563.52,119.34 L563.62,115.37 L563.72,111.17 L563.82,106.78 L563.92,102.25 L564.02,97.64 L564.12,93.01 L564.22,88.4 L564.32,83.87 L564.42,79.47 L564.52,75.25 L564.62,71.27 L564.72,67.56 L564.83,64.17 L564.93,61.15 L565.03,58.52 L565.13,56.32 L565.23,54.57 L565.33,53.29 L565.43,52.5 L565.53,52.2 L565.63,52.41 L565.73,53.11 L565.83,54.3 L565.93,55.97 L566.03,58.09 L566.14,60.64 L566.24,63.6 L566.34,66.92 L566.44,70.58 L566.54,74.51 L566.64,78.69 L566.74,83.06 L566.84,87.57 L566.94,92.17 L567.04,96.81 L567.14,101.43 L567.24,105.97 L567.34,110.39 L567.45,114.63 L567.55,118.65 L567.65,122.39 L567.75,125.82 L567.85,128.89 L567.95,131.57 L568.05,133.83 L568.15,135.64 L568.25,136.98 L568.35,137.83 L568.45,138.19 L568.55,138.05 L568.65,137.41 L568.76,136.28 L568.86,134.67 L568.96,132.6 L569.06,130.1 L569.16,127.19 L569.26,123.91 L569.36,120.3 L569.46,116.4 L569.56,112.24 L569.66,107.9 L569.76,103.4 L569.86,98.81 L569.96,94.17 L570.07,89.55 L570.17,85 L570.27,80.56 L570.37,76.29 L570.47,72.24 L570.57,68.46 L570.67,64.99 L570.77,61.87 L570.87,59.14 L570.97,56.83 L571.07,54.96 L571.17,53.56 L571.27,52.65 L571.38,52.23 L571.48,52.31 L571.58,52.89 L571.68,53.96 L571.78,55.5 L571.88,57.52 L571.98,59.96 L572.08,62.82 L572.18,66.06 L572.28,69.63 L572.38,73.5 L572.48,77.62 L572.58,81.95 L572.69,86.43 L572.79,91.01 L572.89,95.64 L572.99,100.27 L573.09,104.84 L573.19,109.29 L573.29,113.58 L573.39,117.66 L573.49,121.48 L573.59,124.99 L573.69,128.16 L573.79,130.94 L573.89,133.3 L574,135.23 L574.1,136.69 L574.2,137.66 L574.3,138.15 L574.4,138.13 L574.5,137.61 L574.6,136.61 L574.7,135.12 L574.8,133.16 L574.9,130.77 L575,127.96 L575.1,124.77 L575.2,121.24 L575.31,117.4 L575.41,113.31 L575.51,109 L575.61,104.54 L575.71,99.97 L575.81,95.34 L575.91,90.71 L576.01,86.13 L576.11,81.66 L576.21,77.34 L576.31,73.24 L576.41,69.38 L576.51,65.83 L576.62,62.62 L576.72,59.79 L576.82,57.37 L576.92,55.39 L577.02,53.87 L577.12,52.83 L577.22,52.29 L577.32,52.24 L577.42,52.69 L577.52,53.64 L577.62,55.07 L577.72,56.97 L577.82,59.31 L577.93,62.07 L578.03,65.21 L578.13,68.7 L578.23,72.5 L578.33,76.56 L578.43,80.84 L578.53,85.29 L578.63,89.85 L578.73,94.48 L578.83,99.11 L578.93,103.7 L579.03,108.19 L579.13,112.52 L579.24,116.66 L579.34,120.55 L579.44,124.14 L579.54,127.39 L579.64,130.28 L579.74,132.75 L579.84,134.79 L579.94,136.36 L580.04,137.46 L580.14,138.07 L580.24,138.18 L580.34,137.79 L580.44,136.9 L580.55,135.53 L580.65,133.7 L580.75,131.41 L580.85,128.7 L580.95,125.61 L581.05,122.16 L581.15,118.39 L581.25,114.36 L581.35,110.1 L581.45,105.68 L581.55,101.12 L581.65,96.51 L581.75,91.87 L581.86,87.27 L581.96,82.77 L582.06,78.41 L582.16,74.25 L582.26,70.33 L582.36,66.7 L582.46,63.4 L582.56,60.46 L582.66,57.94 L582.76,55.84 L582.86,54.21 L582.96,53.05 L583.06,52.38 L583.17,52.21 L583.27,52.53 L583.37,53.36 L583.47,54.67 L583.57,56.45 L583.67,58.68 L583.77,61.34 L583.87,64.38 L583.97,67.79 L584.07,71.52 L584.17,75.52 L584.27,79.75 L584.37,84.16 L584.48,88.7 L584.58,93.31 L584.68,97.95 L584.78,102.55 L584.88,107.07 L584.98,111.45 L585.08,115.64 L585.18,119.6 L585.28,123.27 L585.38,126.61 L585.48,129.59 L585.58,132.17 L585.68,134.32 L585.79,136.01 L585.89,137.23 L585.99,137.96 L586.09,138.2 L586.19,137.93 L586.29,137.17 L586.39,135.92 L586.49,134.2 L586.59,132.02 L586.69,129.42 L586.79,126.42 L586.89,123.05 L586.99,119.37 L587.1,115.4 L587.2,111.19 L587.3,106.8 L587.4,102.28 L587.5,97.67 L587.6,93.03 L587.7,88.42 L587.8,83.89 L587.9,79.49 L588,75.27 L588.1,71.29 L588.2,67.58 L588.3,64.19 L588.41,61.16 L588.51,58.53 L588.61,56.33 L588.71,54.57 L588.81,53.29 L588.91,52.5 L589.01,52.2 L589.11,52.4 L589.21,53.1 L589.31,54.29 L589.41,55.96 L589.51,58.08 L589.61,60.63 L589.72,63.58 L589.82,66.9 L589.92,70.55 L590.02,74.49 L590.12,78.67 L590.22,83.04 L590.32,87.55 L590.42,92.15 L590.52,96.78 L590.62,101.4 L590.72,105.94 L590.82,110.36 L590.92,114.61 L591.03,118.63 L591.13,122.37 L591.23,125.8 L591.33,128.88 L591.43,131.56 L591.53,133.82 L591.63,135.63 L591.73,136.97 L591.83,137.83 L591.93,138.19 L592.03,138.05 L592.13,137.41 L592.24,136.28 L592.34,134.68 L592.44,132.61 L592.54,130.11 L592.64,127.21 L592.74,123.93 L592.84,120.32 L592.94,116.42 L593.04,112.27 L593.14,107.92 L593.24,103.42 L593.34,98.83 L593.44,94.2 L593.55,89.58 L593.65,85.02 L593.75,80.58 L593.85,76.31 L593.95,72.26 L594.05,68.48 L594.15,65.01 L594.25,61.89 L594.35,59.16 L594.45,56.84 L594.55,54.97 L594.65,53.57 L594.75,52.65 L594.86,52.23 L594.96,52.31 L595.06,52.88 L595.16,53.95 L595.26,55.49 L595.36,57.5 L595.46,59.95 L595.56,62.8 L595.66,66.04 L595.76,69.61 L595.86,73.48 L595.96,77.6 L596.06,81.92 L596.17,86.4 L596.27,90.99 L596.37,95.62 L596.47,100.24 L596.57,104.81 L596.67,109.27 L596.77,113.56 L596.87,117.64 L596.97,121.46 L597.07,124.97 L597.17,128.14 L597.27,130.92 L597.37,133.29 L597.48,135.22 L597.58,136.68 L597.68,137.66 L597.78,138.14 L597.88,138.13 L597.98,137.62 L598.08,136.61 L598.18,135.13 L598.28,133.17 L598.38,130.78 L598.48,127.98 L598.58,124.79 L598.68,121.26 L598.79,117.42 L598.89,113.33 L598.99,109.03 L599.09,104.57 L599.19,99.99 L599.29,95.37 L599.39,90.74 L599.49,86.16 L599.59,81.68 L599.69,77.37 L599.79,73.26 L599.89,69.41 L599.99,65.85 L600.1,62.64 L600.2,59.8 L600.3,57.38 L600.4,55.4 L600.5,53.88 L600.6,52.84 L600.7,52.29 L600.8,52.24 L600.9,52.69 L601,53.63 L601.1,55.06 L601.2,56.96 L601.3,59.29 L601.41,62.05 L601.51,65.19 L601.61,68.68 L601.71,72.48 L601.81,76.54 L601.91,80.82 L602.01,85.27 L602.11,89.83 L602.21,94.45 L602.31,99.08 L602.41,103.67 L602.51,108.16 L602.61,112.5 L602.72,116.64 L602.82,120.53 L602.92,124.12 L603.02,127.38 L603.12,130.26 L603.22,132.74 L603.32,134.78 L603.42,136.36 L603.52,137.46 L603.62,138.07 L603.72,138.18 L603.82,137.79 L603.92,136.91 L604.03,135.54 L604.13,133.71 L604.23,131.42 L604.33,128.72 L604.43,125.62 L604.53,122.18 L604.63,118.41 L604.73,114.38 L604.83,110.13 L604.93,105.7 L605.03,101.15 L605.13,96.53 L605.23,91.9 L605.34,87.3 L605.44,82.8 L605.54,78.44 L605.64,74.27 L605.74,70.35 L605.84,66.71 L605.94,63.41 L606.04,60.48 L606.14,57.95 L606.24,55.85 L606.34,54.22 L606.44,53.05 L606.54,52.38 L606.65,52.21 L606.75,52.53 L606.85,53.35 L606.95,54.66 L607.05,56.44 L607.15,58.67 L607.25,61.32 L607.35,64.37 L607.45,67.77 L607.55,71.5 L607.65,75.5 L607.75,79.73 L607.85,84.14 L607.96,88.67 L608.06,93.29 L608.16,97.92 L608.26,102.53 L608.36,107.04 L608.46,111.43 L608.56,115.62 L608.66,119.57 L608.76,123.25 L608.86,126.59 L608.96,129.57 L609.06,132.15 L609.16,134.31 L609.27,136 L609.37,137.23 L609.47,137.96 L609.57,138.2 L609.67,137.94 L609.77,137.18 L609.87,135.93 L609.97,134.21 L610.07,132.04 L610.17,129.44 L610.27,126.44 L610.37,123.07 L610.47,119.39 L610.58,115.42 L610.68,111.22 L610.78,106.83 L610.88,102.3 L610.98,97.7 L611.08,93.06 L611.18,88.45 L611.28,83.92 L611.38,79.52 L611.48,75.3 L611.58,71.31 L611.68,67.6 L611.78,64.21 L611.89,61.18 L611.99,58.55 L612.09,56.34 L612.19,54.58 L612.29,53.3 L612.39,52.5 L612.49,52.2 L612.59,52.4 L612.69,53.1 L612.79,54.28 L612.89,55.95 L612.99,58.06 L613.09,60.61 L613.2,63.57 L613.3,66.88 L613.4,70.53 L613.5,74.47 L613.6,78.64 L613.7,83.01 L613.8,87.52 L613.9,92.12 L614,96.76 L614.1,101.37 L614.2,105.92 L614.3,110.34 L614.4,114.59 L614.51,118.6 L614.61,122.35 L614.71,125.78 L614.81,128.86 L614.91,131.54 L615.01,133.81 L615.11,135.62 L615.21,136.97 L615.31,137.82 L615.41,138.19 L615.51,138.05 L615.61,137.42 L615.71,136.29 L615.82,134.69 L615.92,132.63 L616.02,130.13 L616.12,127.23 L616.22,123.95 L616.32,120.34 L616.42,116.44 L616.52,112.29 L616.62,107.95 L616.72,103.45 L616.82,98.86 L616.92,94.23 L617.02,89.6 L617.13,85.05 L617.23,80.61 L617.33,76.34 L617.43,72.29 L617.53,68.5 L617.63,65.03 L617.73,61.91 L617.83,59.17 L617.93,56.85 L618.03,54.98 L618.13,53.58 L618.23,52.66 L618.33,52.23 L618.44,52.3 L618.54,52.88 L618.64,53.94 L618.74,55.48 L618.84,57.49 L618.94,59.93 L619.04,62.79 L619.14,66.02 L619.24,69.59 L619.34,73.45 L619.44,77.57 L619.54,81.9 L619.64,86.38 L619.75,90.96 L619.85,95.59 L619.95,100.22 L620.05,104.79 L620.15,109.24 L620.25,113.54 L620.35,117.62 L620.45,121.44 L620.55,124.95 L620.65,128.12 L620.75,130.91 L620.85,133.28 L620.95,135.21 L621.06,136.67 L621.16,137.65 L621.26,138.14 L621.36,138.13 L621.46,137.62 L621.56,136.62 L621.66,135.13 L621.76,133.19 L621.86,130.8 L621.96,127.99 L622.06,124.81 L622.16,121.28 L622.26,117.45 L622.37,113.36 L622.47,109.05 L622.57,104.59 L622.67,100.02 L622.77,95.39 L622.87,90.76 L622.97,86.18 L623.07,81.71 L623.17,77.39 L623.27,73.28 L623.37,69.43 L623.47,65.87 L623.57,62.66 L623.68,59.82 L623.78,57.39 L623.88,55.41 L623.98,53.89 L624.08,52.84 L624.18,52.29 L624.28,52.24 L624.38,52.69 L624.48,53.63 L624.58,55.05 L624.68,56.94 L624.78,59.28 L624.88,62.03 L624.99,65.17 L625.09,68.66 L625.19,72.46 L625.29,76.52 L625.39,80.8 L625.49,85.24 L625.59,89.8 L625.69,94.43 L625.79,99.06 L625.89,103.65 L625.99,108.14 L626.09,112.48 L626.19,116.61 L626.3,120.5 L626.4,124.1 L626.5,127.36 L626.6,130.25 L626.7,132.72 L626.8,134.77 L626.9,136.35 L627,137.45 L627.1,138.07 L627.2,138.18 L627.3,137.8 L627.4,136.92 L627.5,135.55 L627.61,133.72 L627.71,131.44 L627.81,128.73 L627.91,125.64 L628.01,122.2 L628.11,118.44 L628.21,114.41 L628.31,110.15 L628.41,105.73 L628.51,101.18 L628.61,96.56 L628.71,91.92 L628.81,87.33 L628.92,82.82 L629.02,78.46 L629.12,74.29 L629.22,70.37 L629.32,66.73 L629.42,63.43 L629.52,60.5 L629.62,57.96 L629.72,55.86 L629.82,54.22 L629.92,53.06 L630.02,52.38 L630.12,52.21 L630.23,52.53 L630.33,53.35 L630.43,54.65 L630.53,56.43 L630.63,58.65 L630.73,61.3 L630.83,64.35 L630.93,67.75 L631.03,71.48 L631.13,75.47 L631.23,79.7 L631.33,84.11 L631.43,88.65" stroke="#7ab9e8" stroke-width="0.9" fill="none" stroke-linejoin="round" />
<rect x="504.7" y="21.9" width="169.2" height="135.1" stroke="#141414" stroke-width="1.3" fill="none" rx="0"/>
<line x1="543.9" y1="25.4" x2="546.8" y2="18.6" stroke="#141414" stroke-width="1.3" />
<line x1="547.3" y1="25.4" x2="550.1" y2="18.6" stroke="#141414" stroke-width="1.3" />
<line x1="543.9" y1="160.5" x2="546.8" y2="153.7" stroke="#141414" stroke-width="1.3" />
<line x1="547.3" y1="160.5" x2="550.1" y2="153.7" stroke="#141414" stroke-width="1.3" />
<line x1="628.3" y1="25.4" x2="631.2" y2="18.6" stroke="#141414" stroke-width="1.3" />
<line x1="631.7" y1="25.4" x2="634.5" y2="18.6" stroke="#141414" stroke-width="1.3" />
<line x1="628.3" y1="160.5" x2="631.2" y2="153.7" stroke="#141414" stroke-width="1.3" />
<line x1="631.7" y1="160.5" x2="634.5" y2="153.7" stroke="#141414" stroke-width="1.3" />
<line x1="504.7" y1="137.2" x2="507.9" y2="137.2" stroke="#141414" stroke-width="1.1" />
<text transform="translate(500.5,140.5)" font-size="9.3" text-anchor="end" fill="#1a1a1a" style="color:#1a1a1a" >0</text>
<line x1="504.7" y1="97.35" x2="507.9" y2="97.35" stroke="#141414" stroke-width="1.1" />
<text transform="translate(500.5,100.65)" font-size="9.3" text-anchor="end" fill="#1a1a1a" style="color:#1a1a1a" >10</text>
<line x1="504.7" y1="57.5" x2="507.9" y2="57.5" stroke="#141414" stroke-width="1.1" />
<text transform="translate(500.5,60.8)" font-size="9.3" text-anchor="end" fill="#1a1a1a" style="color:#1a1a1a" >20</text>
<line x1="504.7" y1="157.12" x2="506.5" y2="157.12" stroke="#141414" stroke-width="1.1" />
<line x1="504.7" y1="117.27" x2="506.5" y2="117.27" stroke="#141414" stroke-width="1.1" />
<line x1="504.7" y1="77.42" x2="506.5" y2="77.42" stroke="#141414" stroke-width="1.1" />
<line x1="504.7" y1="37.58" x2="506.5" y2="37.58" stroke="#141414" stroke-width="1.1" />
<line x1="505" y1="157" x2="505" y2="153.8" stroke="#141414" stroke-width="1.1" />
<line x1="509" y1="157" x2="509" y2="155.2" stroke="#141414" stroke-width="1.1" />
<line x1="513" y1="157" x2="513" y2="155.2" stroke="#141414" stroke-width="1.1" />
<line x1="517" y1="157" x2="517" y2="155.2" stroke="#141414" stroke-width="1.1" />
<line x1="521" y1="157" x2="521" y2="155.2" stroke="#141414" stroke-width="1.1" />
<line x1="525" y1="157" x2="525" y2="155.2" stroke="#141414" stroke-width="1.1" />
<line x1="529" y1="157" x2="529" y2="155.2" stroke="#141414" stroke-width="1.1" />
<line x1="533" y1="157" x2="533" y2="155.2" stroke="#141414" stroke-width="1.1" />
<line x1="537" y1="157" x2="537" y2="155.2" stroke="#141414" stroke-width="1.1" />
<line x1="541" y1="157" x2="541" y2="155.2" stroke="#141414" stroke-width="1.1" />
<line x1="555.23" y1="157" x2="555.23" y2="155.2" stroke="#141414" stroke-width="1.1" />
<line x1="560.1" y1="157" x2="560.1" y2="153.8" stroke="#141414" stroke-width="1.1" />
<line x1="564.97" y1="157" x2="564.97" y2="155.2" stroke="#141414" stroke-width="1.1" />
<line x1="569.84" y1="157" x2="569.84" y2="155.2" stroke="#141414" stroke-width="1.1" />
<line x1="574.71" y1="157" x2="574.71" y2="155.2" stroke="#141414" stroke-width="1.1" />
<line x1="579.58" y1="157" x2="579.58" y2="155.2" stroke="#141414" stroke-width="1.1" />
<line x1="584.45" y1="157" x2="584.45" y2="155.2" stroke="#141414" stroke-width="1.1" />
<line x1="589.32" y1="157" x2="589.32" y2="153.8" stroke="#141414" stroke-width="1.1" />
<line x1="594.19" y1="157" x2="594.19" y2="155.2" stroke="#141414" stroke-width="1.1" />
<line x1="599.06" y1="157" x2="599.06" y2="155.2" stroke="#141414" stroke-width="1.1" />
<line x1="603.93" y1="157" x2="603.93" y2="155.2" stroke="#141414" stroke-width="1.1" />
<line x1="608.8" y1="157" x2="608.8" y2="155.2" stroke="#141414" stroke-width="1.1" />
<line x1="613.67" y1="157" x2="613.67" y2="155.2" stroke="#141414" stroke-width="1.1" />
<line x1="618.54" y1="157" x2="618.54" y2="153.8" stroke="#141414" stroke-width="1.1" />
<line x1="623.41" y1="157" x2="623.41" y2="155.2" stroke="#141414" stroke-width="1.1" />
<line x1="628.28" y1="157" x2="628.28" y2="155.2" stroke="#141414" stroke-width="1.1" />
<line x1="637.18" y1="157" x2="637.18" y2="155.2" stroke="#141414" stroke-width="1.1" />
<line x1="642.04" y1="157" x2="642.04" y2="155.2" stroke="#141414" stroke-width="1.1" />
<line x1="646.9" y1="157" x2="646.9" y2="155.2" stroke="#141414" stroke-width="1.1" />
<line x1="651.76" y1="157" x2="651.76" y2="155.2" stroke="#141414" stroke-width="1.1" />
<line x1="656.62" y1="157" x2="656.62" y2="155.2" stroke="#141414" stroke-width="1.1" />
<line x1="661.48" y1="157" x2="661.48" y2="155.2" stroke="#141414" stroke-width="1.1" />
<line x1="666.34" y1="157" x2="666.34" y2="155.2" stroke="#141414" stroke-width="1.1" />
<line x1="671.2" y1="157" x2="671.2" y2="155.2" stroke="#141414" stroke-width="1.1" />
<text transform="translate(505,168.9)" font-size="9.3" text-anchor="middle" fill="#1a1a1a" style="color:#1a1a1a" >0</text>
<text transform="translate(531.8,168.9)" font-size="9.3" text-anchor="middle" fill="#1a1a1a" style="color:#1a1a1a" >200</text>
<text transform="translate(560.1,168.9)" font-size="9.3" text-anchor="middle" fill="#1a1a1a" style="color:#1a1a1a" >495</text>
<text transform="translate(589.3,168.9)" font-size="9.3" text-anchor="middle" fill="#1a1a1a" style="color:#1a1a1a" >500</text>
<text transform="translate(618.5,168.9)" font-size="9.3" text-anchor="middle" fill="#1a1a1a" style="color:#1a1a1a" >505</text>
<text transform="translate(646.9,168.9)" font-size="9.3" text-anchor="middle" fill="#1a1a1a" style="color:#1a1a1a" >800</text>
<text transform="translate(674,168.9)" font-size="9.3" text-anchor="middle" fill="#1a1a1a" style="color:#1a1a1a" >1000</text>
<text transform="translate(589.3,182.7)" font-size="9.7" text-anchor="middle" fill="#1a1a1a" style="color:#1a1a1a" >Pulse number</text>
<text transform="translate(480,84) rotate(-90)" font-size="10" text-anchor="middle" fill="#1a1a1a" style="color:#1a1a1a" >ΔI<tspan font-size="7.4" dy="1.7">PSC</tspan><tspan dy="-1.7">&#8203;</tspan> (mA)</text>
<text transform="translate(0.6,202.2) scale(1,1.06)" font-size="17.4" text-anchor="start" fill="#1a1a1a" style="color:#1a1a1a" >(d)</text>
<path d="M38.2,242.1 L45.25,242.1 L52.3,242.1 L59.35,242.1 L66.4,242.1 L66.4,242.1 L66.4,253.5 L66.54,242.3 L66.54,242.3 L70.03,242.3 L73.52,242.3 L77.01,242.3 L80.5,242.3" stroke="#454545" stroke-width="1.1" fill="none" stroke-linejoin="round" />
<path d="M80.5,242.3 L84.03,242.3 L87.55,242.3 L91.08,242.3 L94.6,242.3 L94.6,267.5 L94.83,244.5 L94.83,244.5 L95.05,244.07 L95.25,243.89 L95.59,243.81 L95.94,243.74 L96.28,243.68 L96.63,243.62 L96.97,243.57 L97.32,243.53 L97.66,243.49 L98.01,243.46 L98.35,243.43 L98.7,243.4 L99.04,243.38 L99.39,243.36 L99.73,243.34 L100.08,243.32 L100.42,243.31 L100.77,243.3 L101.11,243.29 L101.46,243.28 L101.8,243.27 L102.15,243.26 L102.49,243.25 L102.84,243.25 L103.18,243.24 L103.53,243.24 L103.87,243.23 L104.22,243.23 L104.56,243.23 L104.91,243.22 L105.25,243.22 L105.6,243.22 L105.94,243.22 L106.29,243.21 L106.63,243.21 L106.98,243.21 L107.32,243.21 L107.67,243.21 L108.01,243.21 L108.36,243.21 L108.7,243.21" stroke="#e8322e" stroke-width="1.3" fill="none" stroke-linejoin="round" />
<path d="M108.7,243.2 L112.22,243.15 L115.75,243.1 L119.28,243.05 L122.8,243 L122.8,285.9 L123.08,248.5 L123.08,248 L123.31,247.15 L123.5,246.75 L123.85,246.57 L124.19,246.4 L124.54,246.24 L124.88,246.1 L125.22,245.97 L125.57,245.85 L125.91,245.73 L126.25,245.63 L126.6,245.53 L126.94,245.44 L127.28,245.36 L127.63,245.29 L127.97,245.22 L128.31,245.15 L128.66,245.1 L129,245.04 L129.34,244.99 L129.69,244.95 L130.03,244.9 L130.37,244.86 L130.72,244.83 L131.06,244.79 L131.4,244.76 L131.75,244.74 L132.09,244.71 L132.44,244.68 L132.78,244.66 L133.12,244.64 L133.47,244.62 L133.81,244.61 L134.15,244.59 L134.5,244.58 L134.84,244.56 L135.18,244.55 L135.53,244.54 L135.87,244.53 L136.21,244.52 L136.56,244.51 L136.9,244.5" stroke="#3f73e0" stroke-width="1.3" fill="none" stroke-linejoin="round" />
<path d="M136.9,244.4 L140.42,244.3 L143.95,244.2 L147.48,244.1 L151,244 L151,309.4 L151.34,252 L151.34,251 L151.56,250.57 L151.76,250.22 L152.1,250.01 L152.45,249.81 L152.79,249.63 L153.13,249.46 L153.47,249.3 L153.81,249.15 L154.16,249.01 L154.5,248.88 L154.84,248.76 L155.18,248.64 L155.52,248.53 L155.87,248.43 L156.21,248.34 L156.55,248.25 L156.89,248.17 L157.23,248.1 L157.58,248.02 L157.92,247.96 L158.26,247.9 L158.6,247.84 L158.94,247.78 L159.29,247.73 L159.63,247.68 L159.97,247.64 L160.31,247.6 L160.65,247.56 L161,247.52 L161.34,247.49 L161.68,247.46 L162.02,247.43 L162.36,247.4 L162.71,247.37 L163.05,247.35 L163.39,247.33 L163.73,247.3 L164.07,247.28 L164.42,247.27 L164.76,247.25 L165.1,247.23" stroke="#3fb455" stroke-width="1.3" fill="none" stroke-linejoin="round" />
<path d="M165.1,247 L168.62,246.88 L172.15,246.75 L175.68,246.62 L179.2,246.5 L179.2,331.8 L179.62,257 L179.62,256 L179.85,254.3 L180.05,253.71 L180.75,253.25 L181.45,252.82 L182.15,252.42 L182.85,252.05 L183.55,251.7 L184.25,251.38 L184.96,251.08 L185.66,250.8 L186.36,250.54 L187.06,250.3 L187.76,250.07 L188.46,249.86 L189.16,249.66 L189.87,249.48 L190.57,249.31 L191.27,249.15 L191.97,249 L192.67,248.87 L193.37,248.74 L194.07,248.62 L194.78,248.51 L195.48,248.4 L196.18,248.31 L196.88,248.22 L197.58,248.13 L198.28,248.06 L198.98,247.98 L199.68,247.92 L200.39,247.85 L201.09,247.8 L201.79,247.74 L202.49,247.69 L203.19,247.64 L203.89,247.6 L204.59,247.56 L205.3,247.52 L206,247.48 L206.7,247.45 L207.4,247.42" stroke="#a874f2" stroke-width="1.3" fill="none" stroke-linejoin="round" />
<rect x="38.2" y="208.4" width="169.2" height="134.8" stroke="#141414" stroke-width="1.3" fill="none" rx="0"/>
<line x1="38.2" y1="343.2" x2="38.2" y2="340" stroke="#141414" stroke-width="1.1" />
<text transform="translate(38.2,355.37)" font-size="9.5" text-anchor="middle" fill="#1a1a1a" style="color:#1a1a1a" >0</text>
<line x1="66.4" y1="343.2" x2="66.4" y2="340" stroke="#141414" stroke-width="1.1" />
<text transform="translate(66.4,355.37)" font-size="9.5" text-anchor="middle" fill="#1a1a1a" style="color:#1a1a1a" >10</text>
<line x1="94.6" y1="343.2" x2="94.6" y2="340" stroke="#141414" stroke-width="1.1" />
<text transform="translate(94.6,355.37)" font-size="9.5" text-anchor="middle" fill="#1a1a1a" style="color:#1a1a1a" >20</text>
<line x1="122.8" y1="343.2" x2="122.8" y2="340" stroke="#141414" stroke-width="1.1" />
<text transform="translate(122.8,355.37)" font-size="9.5" text-anchor="middle" fill="#1a1a1a" style="color:#1a1a1a" >30</text>
<line x1="151" y1="343.2" x2="151" y2="340" stroke="#141414" stroke-width="1.1" />
<text transform="translate(151,355.37)" font-size="9.5" text-anchor="middle" fill="#1a1a1a" style="color:#1a1a1a" >40</text>
<line x1="179.2" y1="343.2" x2="179.2" y2="340" stroke="#141414" stroke-width="1.1" />
<text transform="translate(179.2,355.37)" font-size="9.5" text-anchor="middle" fill="#1a1a1a" style="color:#1a1a1a" >50</text>
<line x1="207.4" y1="343.2" x2="207.4" y2="340" stroke="#141414" stroke-width="1.1" />
<text transform="translate(207.4,355.37)" font-size="9.5" text-anchor="middle" fill="#1a1a1a" style="color:#1a1a1a" >60</text>
<line x1="52.3" y1="343.2" x2="52.3" y2="341.4" stroke="#141414" stroke-width="1.1" />
<line x1="80.5" y1="343.2" x2="80.5" y2="341.4" stroke="#141414" stroke-width="1.1" />
<line x1="108.7" y1="343.2" x2="108.7" y2="341.4" stroke="#141414" stroke-width="1.1" />
<line x1="136.9" y1="343.2" x2="136.9" y2="341.4" stroke="#141414" stroke-width="1.1" />
<line x1="165.1" y1="343.2" x2="165.1" y2="341.4" stroke="#141414" stroke-width="1.1" />
<line x1="193.3" y1="343.2" x2="193.3" y2="341.4" stroke="#141414" stroke-width="1.1" />
<line x1="38.2" y1="208.6" x2="41.4" y2="208.6" stroke="#141414" stroke-width="1.1" />
<text transform="translate(34.4,211.97)" font-size="9.5" text-anchor="end" fill="#1a1a1a" style="color:#1a1a1a" >-27</text>
<line x1="38.2" y1="238.6" x2="41.4" y2="238.6" stroke="#141414" stroke-width="1.1" />
<text transform="translate(34.4,241.97)" font-size="9.5" text-anchor="end" fill="#1a1a1a" style="color:#1a1a1a" >-24</text>
<line x1="38.2" y1="268.6" x2="41.4" y2="268.6" stroke="#141414" stroke-width="1.1" />
<text transform="translate(34.4,271.97)" font-size="9.5" text-anchor="end" fill="#1a1a1a" style="color:#1a1a1a" >-21</text>
<line x1="38.2" y1="298.6" x2="41.4" y2="298.6" stroke="#141414" stroke-width="1.1" />
<text transform="translate(34.4,301.97)" font-size="9.5" text-anchor="end" fill="#1a1a1a" style="color:#1a1a1a" >-18</text>
<line x1="38.2" y1="328.6" x2="41.4" y2="328.6" stroke="#141414" stroke-width="1.1" />
<text transform="translate(34.4,331.97)" font-size="9.5" text-anchor="end" fill="#1a1a1a" style="color:#1a1a1a" >-15</text>
<line x1="38.2" y1="223.6" x2="40" y2="223.6" stroke="#141414" stroke-width="1.1" />
<line x1="38.2" y1="253.6" x2="40" y2="253.6" stroke="#141414" stroke-width="1.1" />
<line x1="38.2" y1="283.6" x2="40" y2="283.6" stroke="#141414" stroke-width="1.1" />
<line x1="38.2" y1="313.6" x2="40" y2="313.6" stroke="#141414" stroke-width="1.1" />
<text transform="translate(122.8,366.8)" font-size="9.9" text-anchor="middle" fill="#1a1a1a" style="color:#1a1a1a" >Time (s)</text>
<text transform="translate(14.7,275.8) rotate(-90)" font-size="9.7" text-anchor="middle" fill="#1a1a1a" style="color:#1a1a1a" >I<tspan font-size="6.6" dy="2.13">DS</tspan><tspan dy="-2.13">&#8203;</tspan> (mA)</text>
<text transform="translate(51.8,225.9)" font-size="9.7" text-anchor="start" fill="#1a1a1a" style="color:#1a1a1a" >Pulse voltage amplitude</text>
<line x1="48.4" y1="281" x2="70" y2="281" stroke="#454545" stroke-width="1.1" />
<text transform="translate(72.7,284.44)" font-size="9.7" text-anchor="start" fill="#1a1a1a" style="color:#1a1a1a" >0.5 V</text>
<line x1="48.4" y1="293.2" x2="70" y2="293.2" stroke="#e8322e" stroke-width="1.1" />
<text transform="translate(72.7,296.64)" font-size="9.7" text-anchor="start" fill="#1a1a1a" style="color:#1a1a1a" >1.0 V</text>
<line x1="48.4" y1="305" x2="70" y2="305" stroke="#3f73e0" stroke-width="1.1" />
<text transform="translate(72.7,308.44)" font-size="9.7" text-anchor="start" fill="#1a1a1a" style="color:#1a1a1a" >1.5 V</text>
<line x1="48.4" y1="317" x2="70" y2="317" stroke="#3fb455" stroke-width="1.1" />
<text transform="translate(72.7,320.44)" font-size="9.7" text-anchor="start" fill="#1a1a1a" style="color:#1a1a1a" >2.0 V</text>
<line x1="48.4" y1="329" x2="70" y2="329" stroke="#a874f2" stroke-width="1.1" />
<text transform="translate(72.7,332.44)" font-size="9.7" text-anchor="start" fill="#1a1a1a" style="color:#1a1a1a" >2.5 V</text>
<text transform="translate(237.4,202.2) scale(1,1.06)" font-size="17.4" text-anchor="start" fill="#1a1a1a" style="color:#1a1a1a" >(e)</text>
<path d="M277.6,231.9 L284.65,231.9 L291.71,231.9 L298.76,231.9 L305.82,231.9 L305.82,250.8 L305.96,233.5 L305.96,233.2 L309.45,233.1 L312.94,233 L316.43,232.9 L319.93,232.8" stroke="#454545" stroke-width="1.1" fill="none" stroke-linejoin="round" />
<path d="M319.93,232.8 L323.45,232.78 L326.98,232.75 L330.51,232.72 L334.03,232.7 L334.03,304.8 L334.32,237 L334.32,236.5 L334.54,236.07 L334.74,235.76 L335.08,235.59 L335.43,235.44 L335.77,235.3 L336.11,235.18 L336.46,235.06 L336.8,234.96 L337.14,234.87 L337.49,234.78 L337.83,234.71 L338.18,234.64 L338.52,234.58 L338.86,234.52 L339.21,234.47 L339.55,234.43 L339.89,234.39 L340.24,234.35 L340.58,234.31 L340.92,234.28 L341.27,234.26 L341.61,234.23 L341.96,234.21 L342.3,234.19 L342.64,234.17 L342.99,234.15 L343.33,234.14 L343.67,234.13 L344.02,234.11 L344.36,234.1 L344.71,234.09 L345.05,234.08 L345.39,234.08 L345.74,234.07 L346.08,234.06 L346.42,234.06 L346.77,234.05 L347.11,234.05 L347.45,234.04 L347.8,234.04 L348.14,234.03" stroke="#e8322e" stroke-width="1.3" fill="none" stroke-linejoin="round" />
<path d="M348.14,234 L351.67,233.88 L355.2,233.75 L358.72,233.62 L362.25,233.5 L362.25,323.7 L362.59,238.5 L362.59,238 L362.81,237.57 L363.01,237.03 L363.35,236.69 L363.7,236.38 L364.04,236.11 L364.38,235.86 L364.72,235.63 L365.07,235.42 L365.41,235.24 L365.75,235.07 L366.09,234.92 L366.43,234.78 L366.78,234.66 L367.12,234.55 L367.46,234.45 L367.8,234.36 L368.15,234.28 L368.49,234.2 L368.83,234.13 L369.17,234.07 L369.51,234.02 L369.86,233.97 L370.2,233.92 L370.54,233.88 L370.88,233.85 L371.23,233.81 L371.57,233.78 L371.91,233.76 L372.25,233.73 L372.59,233.71 L372.94,233.69 L373.28,233.67 L373.62,233.65 L373.96,233.64 L374.31,233.63 L374.65,233.61 L374.99,233.6 L375.33,233.59 L375.67,233.58 L376.02,233.58 L376.36,233.57" stroke="#3f73e0" stroke-width="1.3" fill="none" stroke-linejoin="round" />
<path d="M376.36,233.5 L379.89,233.38 L383.41,233.25 L386.94,233.12 L390.47,233 L390.47,326.4 L390.81,238 L390.81,237.5 L391.03,237.07 L391.23,236.45 L391.57,236.05 L391.91,235.69 L392.26,235.36 L392.6,235.07 L392.94,234.8 L393.28,234.56 L393.62,234.34 L393.97,234.15 L394.31,233.97 L394.65,233.81 L394.99,233.66 L395.34,233.53 L395.68,233.41 L396.02,233.31 L396.36,233.21 L396.7,233.12 L397.05,233.04 L397.39,232.97 L397.73,232.91 L398.07,232.85 L398.42,232.8 L398.76,232.75 L399.1,232.71 L399.44,232.67 L399.78,232.63 L400.13,232.6 L400.47,232.57 L400.81,232.54 L401.15,232.52 L401.5,232.5 L401.84,232.48 L402.18,232.46 L402.52,232.45 L402.86,232.43 L403.21,232.42 L403.55,232.41 L403.89,232.4 L404.23,232.39 L404.57,232.38" stroke="#3fb455" stroke-width="1.3" fill="none" stroke-linejoin="round" />
<path d="M404.57,232.3 L408.1,232.1 L411.63,231.9 L415.16,231.7 L418.68,231.5 L418.68,327.5 L419.11,238 L419.11,237 L419.33,236.15 L419.53,235.59 L420.23,234.97 L420.93,234.42 L421.64,233.93 L422.34,233.48 L423.04,233.09 L423.74,232.74 L424.44,232.42 L425.14,232.14 L425.85,231.89 L426.55,231.67 L427.25,231.47 L427.95,231.29 L428.65,231.13 L429.36,230.99 L430.06,230.86 L430.76,230.75 L431.46,230.65 L432.16,230.56 L432.86,230.48 L433.57,230.4 L434.27,230.34 L434.97,230.28 L435.67,230.23 L436.37,230.18 L437.07,230.14 L437.78,230.11 L438.48,230.07 L439.18,230.04 L439.88,230.02 L440.58,229.99 L441.29,229.97 L441.99,229.96 L442.69,229.94 L443.39,229.92 L444.09,229.91 L444.79,229.9 L445.5,229.89 L446.2,229.88 L446.9,229.87" stroke="#a874f2" stroke-width="1.3" fill="none" stroke-linejoin="round" />
<rect x="277.6" y="208.2" width="169.3" height="134.6" stroke="#141414" stroke-width="1.3" fill="none" rx="0"/>
<line x1="277.6" y1="342.8" x2="277.6" y2="339.6" stroke="#141414" stroke-width="1.1" />
<text transform="translate(277.6,354.97)" font-size="9.5" text-anchor="middle" fill="#1a1a1a" style="color:#1a1a1a" >0</text>
<line x1="305.82" y1="342.8" x2="305.82" y2="339.6" stroke="#141414" stroke-width="1.1" />
<text transform="translate(305.82,354.97)" font-size="9.5" text-anchor="middle" fill="#1a1a1a" style="color:#1a1a1a" >10</text>
<line x1="334.03" y1="342.8" x2="334.03" y2="339.6" stroke="#141414" stroke-width="1.1" />
<text transform="translate(334.03,354.97)" font-size="9.5" text-anchor="middle" fill="#1a1a1a" style="color:#1a1a1a" >20</text>
<line x1="362.25" y1="342.8" x2="362.25" y2="339.6" stroke="#141414" stroke-width="1.1" />
<text transform="translate(362.25,354.97)" font-size="9.5" text-anchor="middle" fill="#1a1a1a" style="color:#1a1a1a" >30</text>
<line x1="390.47" y1="342.8" x2="390.47" y2="339.6" stroke="#141414" stroke-width="1.1" />
<text transform="translate(390.47,354.97)" font-size="9.5" text-anchor="middle" fill="#1a1a1a" style="color:#1a1a1a" >40</text>
<line x1="418.68" y1="342.8" x2="418.68" y2="339.6" stroke="#141414" stroke-width="1.1" />
<text transform="translate(418.68,354.97)" font-size="9.5" text-anchor="middle" fill="#1a1a1a" style="color:#1a1a1a" >50</text>
<line x1="446.9" y1="342.8" x2="446.9" y2="339.6" stroke="#141414" stroke-width="1.1" />
<text transform="translate(446.9,354.97)" font-size="9.5" text-anchor="middle" fill="#1a1a1a" style="color:#1a1a1a" >60</text>
<line x1="291.71" y1="342.8" x2="291.71" y2="341" stroke="#141414" stroke-width="1.1" />
<line x1="319.93" y1="342.8" x2="319.93" y2="341" stroke="#141414" stroke-width="1.1" />
<line x1="348.14" y1="342.8" x2="348.14" y2="341" stroke="#141414" stroke-width="1.1" />
<line x1="376.36" y1="342.8" x2="376.36" y2="341" stroke="#141414" stroke-width="1.1" />
<line x1="404.57" y1="342.8" x2="404.57" y2="341" stroke="#141414" stroke-width="1.1" />
<line x1="432.79" y1="342.8" x2="432.79" y2="341" stroke="#141414" stroke-width="1.1" />
<line x1="277.6" y1="226.2" x2="280.8" y2="226.2" stroke="#141414" stroke-width="1.1" />
<text transform="translate(273.8,229.57)" font-size="9.5" text-anchor="end" fill="#1a1a1a" style="color:#1a1a1a" >-25</text>
<line x1="277.6" y1="247.8" x2="280.8" y2="247.8" stroke="#141414" stroke-width="1.1" />
<text transform="translate(273.8,251.17)" font-size="9.5" text-anchor="end" fill="#1a1a1a" style="color:#1a1a1a" >-20</text>
<line x1="277.6" y1="269.4" x2="280.8" y2="269.4" stroke="#141414" stroke-width="1.1" />
<text transform="translate(273.8,272.77)" font-size="9.5" text-anchor="end" fill="#1a1a1a" style="color:#1a1a1a" >-15</text>
<line x1="277.6" y1="291" x2="280.8" y2="291" stroke="#141414" stroke-width="1.1" />
<text transform="translate(273.8,294.37)" font-size="9.5" text-anchor="end" fill="#1a1a1a" style="color:#1a1a1a" >-10</text>
<line x1="277.6" y1="312.6" x2="280.8" y2="312.6" stroke="#141414" stroke-width="1.1" />
<text transform="translate(273.8,315.97)" font-size="9.5" text-anchor="end" fill="#1a1a1a" style="color:#1a1a1a" >-5</text>
<line x1="277.6" y1="334.2" x2="280.8" y2="334.2" stroke="#141414" stroke-width="1.1" />
<text transform="translate(273.8,337.57)" font-size="9.5" text-anchor="end" fill="#1a1a1a" style="color:#1a1a1a" >0</text>
<line x1="277.6" y1="215.4" x2="279.4" y2="215.4" stroke="#141414" stroke-width="1.1" />
<line x1="277.6" y1="237" x2="279.4" y2="237" stroke="#141414" stroke-width="1.1" />
<line x1="277.6" y1="258.6" x2="279.4" y2="258.6" stroke="#141414" stroke-width="1.1" />
<line x1="277.6" y1="280.2" x2="279.4" y2="280.2" stroke="#141414" stroke-width="1.1" />
<line x1="277.6" y1="301.8" x2="279.4" y2="301.8" stroke="#141414" stroke-width="1.1" />
<line x1="277.6" y1="323.4" x2="279.4" y2="323.4" stroke="#141414" stroke-width="1.1" />
<text transform="translate(362.25,366.4)" font-size="9.9" text-anchor="middle" fill="#1a1a1a" style="color:#1a1a1a" >Time (s)</text>
<text transform="translate(252.6,275.5) rotate(-90)" font-size="9.7" text-anchor="middle" fill="#1a1a1a" style="color:#1a1a1a" >I<tspan font-size="6.6" dy="2.13">DS</tspan><tspan dy="-2.13">&#8203;</tspan> (mA)</text>
<text transform="translate(294.8,223.6)" font-size="9.7" text-anchor="start" fill="#1a1a1a" style="color:#1a1a1a" >Pulse width</text>
<line x1="281.3" y1="285.9" x2="303.8" y2="285.9" stroke="#454545" stroke-width="1.1" />
<text transform="translate(305.9,289.34)" font-size="9.7" text-anchor="start" fill="#1a1a1a" style="color:#1a1a1a" >10 ms</text>
<line x1="281.3" y1="297.6" x2="303.8" y2="297.6" stroke="#e8322e" stroke-width="1.1" />
<text transform="translate(305.9,301.04)" font-size="9.7" text-anchor="start" fill="#1a1a1a" style="color:#1a1a1a" >50 ms</text>
<line x1="281.3" y1="309.4" x2="303.8" y2="309.4" stroke="#3f73e0" stroke-width="1.1" />
<text transform="translate(305.9,312.84)" font-size="9.7" text-anchor="start" fill="#1a1a1a" style="color:#1a1a1a" >100 ms</text>
<line x1="281.3" y1="321.1" x2="303.8" y2="321.1" stroke="#3fb455" stroke-width="1.1" />
<text transform="translate(305.9,324.54)" font-size="9.7" text-anchor="start" fill="#1a1a1a" style="color:#1a1a1a" >150 ms</text>
<line x1="281.3" y1="332.9" x2="303.8" y2="332.9" stroke="#a874f2" stroke-width="1.1" />
<text transform="translate(305.9,336.34)" font-size="9.7" text-anchor="start" fill="#1a1a1a" style="color:#1a1a1a" >200 ms</text>
<text transform="translate(467,202.2) scale(1,1.06)" font-size="17.4" text-anchor="start" fill="#1a1a1a" style="color:#1a1a1a" >(f)</text>
<path d="M504.7,235.5 L511.77,235.5 L518.83,235.5 L525.9,235.5 L532.97,235.5 L532.97,235.5 L533.08,254.9 L533.25,241.2 L535.74,239.9 L535.79,240.2 L535.91,259.6 L536.08,244.5 L538.56,243.2 L538.62,243.5 L538.73,263.2 L538.9,248.2 L541.39,246.9 L541.45,247.2 L541.56,268 L541.73,251.5 L544.22,250.2 L544.27,250.5 L544.39,272.7 L544.56,255 L545.12,254.5 L547.1,254" stroke="#454545" stroke-width="1.1" fill="none" stroke-linejoin="round" />
<path d="M547.1,254 L552.75,252 L558.41,250.6 L561.23,250 L561.23,250 L561.37,270 L561.57,255 L562.62,253.5 L562.65,253.5 L562.79,277 L562.99,259 L564.03,257.5 L564.06,257.5 L564.2,282 L564.4,262 L565.45,260.5 L565.47,260.5 L565.61,285 L565.81,265 L566.86,263.5 L566.89,263.5 L567.03,288.2 L567.23,267 L567.45,266.8 L568.17,265.72 L568.89,264.9 L569.61,264.28 L570.33,263.82 L571.05,263.47 L571.77,263.21 L572.49,263.01 L573.21,262.86 L573.93,262.75 L574.65,262.66 L575.37,262.6" stroke="#e8322e" stroke-width="1.3" fill="none" stroke-linejoin="round" />
<path d="M575.37,262.4 L582.43,260.4 L589.5,258.8 L589.5,258.8 L589.61,285 L589.73,270 L590.07,268 L590.18,288.9 L590.29,271.5 L590.63,269.5 L590.74,292.8 L590.86,273 L591.2,271 L591.31,296.7 L591.42,274.5 L591.76,272.5 L591.87,300.6 L591.99,276 L592.04,300.4 L592.33,276 L592.33,275.5 L592.72,274.83 L593.11,274.21 L593.5,273.64 L593.89,273.12 L594.28,272.64 L594.67,272.2 L595.06,271.8 L595.45,271.43 L595.84,271.09 L596.23,270.78 L596.62,270.49 L597.01,270.23 L597.4,269.99 L597.79,269.77 L598.17,269.57 L598.56,269.39 L598.95,269.22 L599.34,269.06 L599.73,268.92 L600.12,268.79 L600.51,268.67 L600.9,268.56 L601.29,268.45 L601.68,268.36 L602.07,268.28 L602.46,268.2 L602.85,268.13 L603.24,268.06 L603.63,268" stroke="#3f73e0" stroke-width="1.3" fill="none" stroke-linejoin="round" />
<path d="M603.63,268 L610.7,267 L617.77,266 L617.91,285 L619.18,311.5 L619.46,284 L619.46,284.5 L619.89,283.66 L620.32,282.89 L620.75,282.18 L621.18,281.52 L621.61,280.92 L622.04,280.37 L622.46,279.86 L622.89,279.4 L623.32,278.97 L623.75,278.58 L624.18,278.21 L624.61,277.88 L625.04,277.57 L625.47,277.29 L625.9,277.04 L626.32,276.8 L626.75,276.58 L627.18,276.38 L627.61,276.19 L628.04,276.02 L628.47,275.87 L628.9,275.73 L629.33,275.59 L629.76,275.47 L630.18,275.36 L630.61,275.26 L631.04,275.17 L631.47,275.08 L631.9,275" stroke="#3fb455" stroke-width="1.3" fill="none" stroke-linejoin="round" />
<path d="M631.9,275 L638.97,273.3 L646.03,271.6 L646.32,328.2 L646.88,292 L646.88,291.5 L647.44,290.73 L648,290 L648.56,289.31 L649.12,288.64 L649.68,288.01 L650.24,287.41 L650.8,286.84 L651.36,286.3 L651.92,285.78 L652.48,285.29 L653.04,284.82 L653.6,284.38 L654.16,283.95 L654.72,283.55 L655.27,283.16 L655.83,282.8 L656.39,282.45 L656.95,282.12 L657.51,281.8 L658.07,281.5 L658.63,281.22 L659.19,280.95 L659.75,280.69 L660.31,280.44 L660.87,280.21 L661.43,279.99 L661.99,279.77 L662.55,279.57 L663.11,279.38 L663.67,279.2 L664.23,279.02 L664.79,278.86 L665.35,278.7 L665.91,278.55 L666.47,278.41 L667.03,278.27 L667.59,278.14 L668.14,278.02 L668.7,277.9 L669.26,277.79 L669.82,277.68 L670.38,277.58 L670.94,277.49 L671.5,277.4 L672.06,277.31 L672.62,277.23 L673.18,277.15 L673.74,277.07 L674.3,277" stroke="#a874f2" stroke-width="1.3" fill="none" stroke-linejoin="round" />
<rect x="504.7" y="207.9" width="169.6" height="135" stroke="#141414" stroke-width="1.3" fill="none" rx="0"/>
<line x1="504.7" y1="342.9" x2="504.7" y2="339.7" stroke="#141414" stroke-width="1.1" />
<text transform="translate(504.7,355.07)" font-size="9.5" text-anchor="middle" fill="#1a1a1a" style="color:#1a1a1a" >0</text>
<line x1="532.97" y1="342.9" x2="532.97" y2="339.7" stroke="#141414" stroke-width="1.1" />
<text transform="translate(532.97,355.07)" font-size="9.5" text-anchor="middle" fill="#1a1a1a" style="color:#1a1a1a" >10</text>
<line x1="561.23" y1="342.9" x2="561.23" y2="339.7" stroke="#141414" stroke-width="1.1" />
<text transform="translate(561.23,355.07)" font-size="9.5" text-anchor="middle" fill="#1a1a1a" style="color:#1a1a1a" >20</text>
<line x1="589.5" y1="342.9" x2="589.5" y2="339.7" stroke="#141414" stroke-width="1.1" />
<text transform="translate(589.5,355.07)" font-size="9.5" text-anchor="middle" fill="#1a1a1a" style="color:#1a1a1a" >30</text>
<line x1="617.77" y1="342.9" x2="617.77" y2="339.7" stroke="#141414" stroke-width="1.1" />
<text transform="translate(617.77,355.07)" font-size="9.5" text-anchor="middle" fill="#1a1a1a" style="color:#1a1a1a" >40</text>
<line x1="646.03" y1="342.9" x2="646.03" y2="339.7" stroke="#141414" stroke-width="1.1" />
<text transform="translate(646.03,355.07)" font-size="9.5" text-anchor="middle" fill="#1a1a1a" style="color:#1a1a1a" >50</text>
<line x1="674.3" y1="342.9" x2="674.3" y2="339.7" stroke="#141414" stroke-width="1.1" />
<text transform="translate(674.3,355.07)" font-size="9.5" text-anchor="middle" fill="#1a1a1a" style="color:#1a1a1a" >60</text>
<line x1="518.83" y1="342.9" x2="518.83" y2="341.1" stroke="#141414" stroke-width="1.1" />
<line x1="547.1" y1="342.9" x2="547.1" y2="341.1" stroke="#141414" stroke-width="1.1" />
<line x1="575.37" y1="342.9" x2="575.37" y2="341.1" stroke="#141414" stroke-width="1.1" />
<line x1="603.63" y1="342.9" x2="603.63" y2="341.1" stroke="#141414" stroke-width="1.1" />
<line x1="631.9" y1="342.9" x2="631.9" y2="341.1" stroke="#141414" stroke-width="1.1" />
<line x1="660.17" y1="342.9" x2="660.17" y2="341.1" stroke="#141414" stroke-width="1.1" />
<line x1="504.7" y1="208.3" x2="507.9" y2="208.3" stroke="#141414" stroke-width="1.1" />
<text transform="translate(500.9,211.67)" font-size="9.5" text-anchor="end" fill="#1a1a1a" style="color:#1a1a1a" >-31</text>
<line x1="504.7" y1="232.7" x2="507.9" y2="232.7" stroke="#141414" stroke-width="1.1" />
<text transform="translate(500.9,236.07)" font-size="9.5" text-anchor="end" fill="#1a1a1a" style="color:#1a1a1a" >-30</text>
<line x1="504.7" y1="257.2" x2="507.9" y2="257.2" stroke="#141414" stroke-width="1.1" />
<text transform="translate(500.9,260.57)" font-size="9.5" text-anchor="end" fill="#1a1a1a" style="color:#1a1a1a" >-29</text>
<line x1="504.7" y1="281.7" x2="507.9" y2="281.7" stroke="#141414" stroke-width="1.1" />
<text transform="translate(500.9,285.07)" font-size="9.5" text-anchor="end" fill="#1a1a1a" style="color:#1a1a1a" >-28</text>
<line x1="504.7" y1="306.2" x2="507.9" y2="306.2" stroke="#141414" stroke-width="1.1" />
<text transform="translate(500.9,309.57)" font-size="9.5" text-anchor="end" fill="#1a1a1a" style="color:#1a1a1a" >-27</text>
<line x1="504.7" y1="330.7" x2="507.9" y2="330.7" stroke="#141414" stroke-width="1.1" />
<text transform="translate(500.9,334.07)" font-size="9.5" text-anchor="end" fill="#1a1a1a" style="color:#1a1a1a" >-26</text>
<line x1="504.7" y1="220.5" x2="506.5" y2="220.5" stroke="#141414" stroke-width="1.1" />
<line x1="504.7" y1="245" x2="506.5" y2="245" stroke="#141414" stroke-width="1.1" />
<line x1="504.7" y1="269.5" x2="506.5" y2="269.5" stroke="#141414" stroke-width="1.1" />
<line x1="504.7" y1="294" x2="506.5" y2="294" stroke="#141414" stroke-width="1.1" />
<line x1="504.7" y1="318.5" x2="506.5" y2="318.5" stroke="#141414" stroke-width="1.1" />
<text transform="translate(589.5,366.5)" font-size="9.9" text-anchor="middle" fill="#1a1a1a" style="color:#1a1a1a" >Time (s)</text>
<text transform="translate(478.7,275.4) rotate(-90)" font-size="9.7" text-anchor="middle" fill="#1a1a1a" style="color:#1a1a1a" >I<tspan font-size="6.6" dy="2.13">DS</tspan><tspan dy="-2.13">&#8203;</tspan> (mA)</text>
<text transform="translate(522.2,222.8)" font-size="9.7" text-anchor="start" fill="#1a1a1a" style="color:#1a1a1a" >Pulse frequency</text>
<line x1="515" y1="281" x2="536.6" y2="281" stroke="#454545" stroke-width="1.1" />
<text transform="translate(539.4,284.44)" font-size="9.7" text-anchor="start" fill="#1a1a1a" style="color:#1a1a1a" >1 Hz</text>
<line x1="515" y1="292.9" x2="536.6" y2="292.9" stroke="#e8322e" stroke-width="1.1" />
<text transform="translate(539.4,296.34)" font-size="9.7" text-anchor="start" fill="#1a1a1a" style="color:#1a1a1a" >2 Hz</text>
<line x1="515" y1="304.9" x2="536.6" y2="304.9" stroke="#3f73e0" stroke-width="1.1" />
<text transform="translate(539.4,308.34)" font-size="9.7" text-anchor="start" fill="#1a1a1a" style="color:#1a1a1a" >5 Hz</text>
<line x1="515" y1="316.8" x2="536.6" y2="316.8" stroke="#3fb455" stroke-width="1.1" />
<text transform="translate(539.4,320.24)" font-size="9.7" text-anchor="start" fill="#1a1a1a" style="color:#1a1a1a" >10 Hz</text>
<line x1="515" y1="328.7" x2="536.6" y2="328.7" stroke="#a874f2" stroke-width="1.1" />
<text transform="translate(539.4,332.14)" font-size="9.7" text-anchor="start" fill="#1a1a1a" style="color:#1a1a1a" >20 Hz</text>
<path d="M206.6,438.9 L211.42,438.9 L211.42,408.9 L230.72,408.9 L230.72,438.9 L288.62,438.9 L288.62,408.9 L307.92,408.9 L307.92,438.9 L327.23,438.9 L327.23,408.9 L341.7,408.9" stroke="#5ce394" stroke-width="1.3" fill="none" stroke-linejoin="round" />
<path d="M206.6,488.9 L250.03,488.9 L250.03,459 L269.32,459 L269.32,488.9 L288.62,488.9 L288.62,459 L307.92,459 L307.92,488.9 L341.7,488.9" stroke="#e0784a" stroke-width="1.3" fill="none" stroke-linejoin="round" />
<path d="M206.6,514.3 L288.62,514.3" stroke="#3cb6ea" stroke-width="1.3" fill="none" stroke-linejoin="round" />
<circle cx="288.87" cy="524" r="0.75" fill="#3cb6ea"/>
<circle cx="288.87" cy="530" r="0.75" fill="#3cb6ea"/>
<path d="M289.11,536.5 L289.35,538.04 L290.33,539.49 L291.3,540.23 L292.28,540.61 L293.26,540.8 L294.24,540.9 L295.21,540.95 L296.19,540.97 L297.17,540.99 L298.15,540.99 L299.13,541 L300.1,541 L301.08,541 L302.06,541 L303.04,541 L304.01,541 L304.99,541 L305.97,541 L306.95,541 L307.92,541" stroke="#3cb6ea" stroke-width="1.3" fill="none" stroke-linejoin="round" />
<path d="M308.17,509.2 L309.32,511.78 L310.48,513.08 L311.64,513.73 L312.79,514.06 L313.95,514.23 L315.1,514.31 L316.26,514.36 L317.42,514.38 L318.57,514.39 L319.73,514.39 L320.89,514.4 L322.04,514.4 L323.2,514.4 L324.35,514.4 L325.51,514.4 L326.67,514.4 L327.82,514.4 L328.98,514.4 L330.14,514.4 L331.29,514.4 L332.45,514.4 L333.61,514.4 L334.76,514.4 L335.92,514.4 L337.07,514.4 L338.23,514.4 L339.39,514.4 L340.54,514.4 L341.7,514.4" stroke="#3cb6ea" stroke-width="1.3" fill="none" stroke-linejoin="round" />
<rect x="206.6" y="398.9" width="135.1" height="150.1" stroke="#141414" stroke-width="1.3" fill="none" rx="0"/>
<line x1="206.6" y1="448.7" x2="341.7" y2="448.7" stroke="#141414" stroke-width="1.3" />
<line x1="206.6" y1="499.1" x2="341.7" y2="499.1" stroke="#141414" stroke-width="1.3" />
<line x1="206.6" y1="408.9" x2="209.6" y2="408.9" stroke="#141414" stroke-width="1.1" />
<text transform="translate(203,412.31)" font-size="9.6" text-anchor="end" fill="#1a1a1a" style="color:#1a1a1a" >1.5</text>
<line x1="206.6" y1="438.9" x2="209.6" y2="438.9" stroke="#141414" stroke-width="1.1" />
<text transform="translate(203,442.31)" font-size="9.6" text-anchor="end" fill="#1a1a1a" style="color:#1a1a1a" >0.0</text>
<line x1="206.6" y1="458.7" x2="209.6" y2="458.7" stroke="#141414" stroke-width="1.1" />
<text transform="translate(203,462.11)" font-size="9.6" text-anchor="end" fill="#1a1a1a" style="color:#1a1a1a" >1.5</text>
<line x1="206.6" y1="488.7" x2="209.6" y2="488.7" stroke="#141414" stroke-width="1.1" />
<text transform="translate(203,492.11)" font-size="9.6" text-anchor="end" fill="#1a1a1a" style="color:#1a1a1a" >0.0</text>
<line x1="206.6" y1="501" x2="209.6" y2="501" stroke="#141414" stroke-width="1.1" />
<text transform="translate(203,504.41)" font-size="9.6" text-anchor="end" fill="#1a1a1a" style="color:#1a1a1a" >-0.8</text>
<line x1="206.6" y1="518.8" x2="209.6" y2="518.8" stroke="#141414" stroke-width="1.1" />
<text transform="translate(203,522.21)" font-size="9.6" text-anchor="end" fill="#1a1a1a" style="color:#1a1a1a" >-0.4</text>
<line x1="206.6" y1="536.6" x2="209.6" y2="536.6" stroke="#141414" stroke-width="1.1" />
<text transform="translate(203,540.01)" font-size="9.6" text-anchor="end" fill="#1a1a1a" style="color:#1a1a1a" >0.0</text>
<line x1="206.6" y1="509.9" x2="208.4" y2="509.9" stroke="#141414" stroke-width="1.1" />
<line x1="206.6" y1="527.7" x2="208.4" y2="527.7" stroke="#141414" stroke-width="1.1" />
<line x1="206.6" y1="545.5" x2="208.4" y2="545.5" stroke="#141414" stroke-width="1.1" />
<line x1="206.6" y1="549" x2="206.6" y2="546" stroke="#141414" stroke-width="1.1" />
<line x1="218.66" y1="549" x2="218.66" y2="547.2" stroke="#141414" stroke-width="1.1" />
<line x1="230.72" y1="549" x2="230.72" y2="546" stroke="#141414" stroke-width="1.1" />
<line x1="242.79" y1="549" x2="242.79" y2="547.2" stroke="#141414" stroke-width="1.1" />
<line x1="254.85" y1="549" x2="254.85" y2="546" stroke="#141414" stroke-width="1.1" />
<line x1="266.91" y1="549" x2="266.91" y2="547.2" stroke="#141414" stroke-width="1.1" />
<line x1="278.98" y1="549" x2="278.98" y2="546" stroke="#141414" stroke-width="1.1" />
<line x1="291.04" y1="549" x2="291.04" y2="547.2" stroke="#141414" stroke-width="1.1" />
<line x1="303.1" y1="549" x2="303.1" y2="546" stroke="#141414" stroke-width="1.1" />
<line x1="315.16" y1="549" x2="315.16" y2="547.2" stroke="#141414" stroke-width="1.1" />
<line x1="327.23" y1="549" x2="327.23" y2="546" stroke="#141414" stroke-width="1.1" />
<line x1="339.29" y1="549" x2="339.29" y2="547.2" stroke="#141414" stroke-width="1.1" />
<line x1="254.85" y1="448.7" x2="254.85" y2="446.2" stroke="#141414" stroke-width="1.1" />
<line x1="254.85" y1="499.1" x2="254.85" y2="496.6" stroke="#141414" stroke-width="1.1" />
<line x1="303.1" y1="448.7" x2="303.1" y2="446.2" stroke="#141414" stroke-width="1.1" />
<line x1="303.1" y1="499.1" x2="303.1" y2="496.6" stroke="#141414" stroke-width="1.1" />
<text transform="translate(206.6,560.71)" font-size="9.6" text-anchor="middle" fill="#1a1a1a" style="color:#1a1a1a" >0</text>
<text transform="translate(230.72,560.71)" font-size="9.6" text-anchor="middle" fill="#1a1a1a" style="color:#1a1a1a" >5</text>
<text transform="translate(254.85,560.71)" font-size="9.6" text-anchor="middle" fill="#1a1a1a" style="color:#1a1a1a" >10</text>
<text transform="translate(278.98,560.71)" font-size="9.6" text-anchor="middle" fill="#1a1a1a" style="color:#1a1a1a" >15</text>
<text transform="translate(303.1,560.71)" font-size="9.6" text-anchor="middle" fill="#1a1a1a" style="color:#1a1a1a" >20</text>
<text transform="translate(327.23,560.71)" font-size="9.6" text-anchor="middle" fill="#1a1a1a" style="color:#1a1a1a" >25</text>
<text transform="translate(274.15,571.6)" font-size="10.1" text-anchor="middle" fill="#1a1a1a" style="color:#1a1a1a" >Time (s)</text>
<text transform="translate(183.9,423.8) rotate(-90)" font-size="9.8" text-anchor="middle" fill="#1a1a1a" style="color:#1a1a1a" >V<tspan font-size="6.66" dy="2.45">IN-A</tspan><tspan dy="-2.45">&#8203;</tspan> (V)</text>
<text transform="translate(183.9,473.9) rotate(-90)" font-size="9.8" text-anchor="middle" fill="#1a1a1a" style="color:#1a1a1a" >V<tspan font-size="6.66" dy="2.45">IN-B</tspan><tspan dy="-2.45">&#8203;</tspan> (V)</text>
<text transform="translate(181,524.05) rotate(-90)" font-size="9.8" text-anchor="middle" fill="#1a1a1a" style="color:#1a1a1a" >V<tspan font-size="6.66" dy="2.45">OUT</tspan><tspan dy="-2.45">&#8203;</tspan> (V)</text>
<path d="M535.4,439.1 L540.21,439.1 L540.21,409.1 L559.45,409.1 L559.45,439.1 L617.18,439.1 L617.18,409.1 L636.42,409.1 L636.42,439.1 L655.67,439.1 L655.67,409.1 L670.1,409.1" stroke="#5ce394" stroke-width="1.3" fill="none" stroke-linejoin="round" />
<path d="M535.4,489.4 L578.7,489.4 L578.7,459.5 L597.94,459.5 L597.94,489.4 L617.18,489.4 L617.18,459.5 L636.42,459.5 L636.42,489.4 L670.1,489.4" stroke="#e0784a" stroke-width="1.3" fill="none" stroke-linejoin="round" />
<path d="M535.4,515.8 L540.45,515.8" stroke="#c39cf0" stroke-width="1.3" fill="none" stroke-linejoin="round" />
<circle cx="540.69" cy="518.5" r="0.75" fill="#c39cf0"/>
<circle cx="540.69" cy="520.5" r="0.75" fill="#c39cf0"/>
<circle cx="540.93" cy="526.8" r="0.75" fill="#c39cf0"/>
<circle cx="540.93" cy="528.5" r="0.75" fill="#c39cf0"/>
<path d="M541.89,533.9 L543.58,537.2 L543.58,537.2 L544.41,537.67 L545.25,538.1 L546.08,538.49 L546.92,538.84 L547.76,539.16 L548.59,539.45 L549.43,539.71 L550.26,539.95 L551.1,540.17 L551.93,540.37 L552.77,540.55 L553.6,540.71 L554.44,540.86 L555.28,540.99 L556.11,541.11 L556.95,541.23 L557.78,541.33 L558.62,541.42 L559.45,541.5" stroke="#c39cf0" stroke-width="1.3" fill="none" stroke-linejoin="round" />
<path d="M561.38,511.4 L561.98,512.77 L562.57,513.74 L563.17,514.41 L563.77,514.89 L564.36,515.22 L564.96,515.45 L565.56,515.62 L566.16,515.73 L566.75,515.81 L567.35,515.87 L567.95,515.91 L568.54,515.93 L569.14,515.95 L569.74,515.97 L570.34,515.98 L570.93,515.98 L571.53,515.99 L572.13,515.99 L572.72,515.99 L573.32,516 L573.92,516 L574.52,516 L575.11,516 L575.71,516 L576.31,516 L576.9,516 L577.5,516 L578.1,516 L578.7,516" stroke="#c39cf0" stroke-width="1.3" fill="none" stroke-linejoin="round" />
<circle cx="578.7" cy="518.2" r="0.75" fill="#c39cf0"/>
<circle cx="578.7" cy="521.3" r="0.75" fill="#c39cf0"/>
<circle cx="578.7" cy="530.9" r="0.75" fill="#c39cf0"/>
<circle cx="578.7" cy="534.7" r="0.75" fill="#c39cf0"/>
<path d="M579.18,536 L581.58,539.8 L581.58,539.8 L582.44,539.99 L583.3,540.16 L584.17,540.32 L585.03,540.46 L585.89,540.58 L586.75,540.7 L587.61,540.8 L588.47,540.9 L589.33,540.98 L590.19,541.06 L591.05,541.13 L591.91,541.2 L592.77,541.25 L593.63,541.3 L594.5,541.35 L595.36,541.39 L596.22,541.43 L597.08,541.47 L597.94,541.5" stroke="#c39cf0" stroke-width="1.3" fill="none" stroke-linejoin="round" />
<circle cx="597.94" cy="537.2" r="0.75" fill="#c39cf0"/>
<path d="M598.42,512.8 L599.07,513.82 L599.71,514.52 L600.36,514.99 L601.01,515.31 L601.66,515.53 L602.3,515.68 L602.95,515.78 L603.6,515.85 L604.24,515.9 L604.89,515.93 L605.54,515.95 L606.18,515.97 L606.83,515.98 L607.48,515.99 L608.12,515.99 L608.77,515.99 L609.42,516 L610.07,516 L610.71,516 L611.36,516 L612.01,516 L612.65,516 L613.3,516 L613.95,516 L614.59,516 L615.24,516 L615.89,516 L616.54,516 L617.18,516" stroke="#c39cf0" stroke-width="1.3" fill="none" stroke-linejoin="round" />
<circle cx="617.18" cy="531.1" r="0.75" fill="#c39cf0"/>
<circle cx="617.18" cy="535" r="0.75" fill="#c39cf0"/>
<circle cx="617.18" cy="539.5" r="0.75" fill="#c39cf0"/>
<path d="M617.66,542.6 L618.31,543.76 L618.96,544.45 L619.6,544.84 L620.25,545.07 L620.9,545.21 L621.54,545.29 L622.19,545.34 L622.84,545.36 L623.49,545.38 L624.13,545.39 L624.78,545.39 L625.43,545.4 L626.07,545.4 L626.72,545.4 L627.37,545.4 L628.01,545.4 L628.66,545.4 L629.31,545.4 L629.96,545.4 L630.6,545.4 L631.25,545.4 L631.9,545.4 L632.54,545.4 L633.19,545.4 L633.84,545.4 L634.48,545.4 L635.13,545.4 L635.78,545.4 L636.42,545.4" stroke="#c39cf0" stroke-width="1.3" fill="none" stroke-linejoin="round" />
<path d="M637.87,512.5 L638.48,513.57 L639.1,514.31 L639.71,514.83 L640.32,515.19 L640.94,515.43 L641.55,515.61 L642.16,515.73 L642.78,515.81 L643.39,515.87 L644.01,515.91 L644.62,515.94 L645.23,515.96 L645.85,515.97 L646.46,515.98 L647.07,515.99 L647.69,515.99 L648.3,515.99 L648.92,516 L649.53,516 L650.14,516 L650.76,516 L651.37,516 L651.99,516 L652.6,516 L653.21,516 L653.83,516 L654.44,516 L655.05,516 L655.67,516" stroke="#c39cf0" stroke-width="1.3" fill="none" stroke-linejoin="round" />
<circle cx="655.67" cy="519.4" r="0.75" fill="#c39cf0"/>
<circle cx="655.67" cy="527.8" r="0.75" fill="#c39cf0"/>
<circle cx="655.67" cy="531.5" r="0.75" fill="#c39cf0"/>
<path d="M655.91,537.7 L670.1,539.8" stroke="#c39cf0" stroke-width="1.3" fill="none" stroke-linejoin="round" />
<rect x="535.4" y="399.1" width="134.7" height="149.8" stroke="#141414" stroke-width="1.3" fill="none" rx="0"/>
<line x1="535.4" y1="449.2" x2="670.1" y2="449.2" stroke="#141414" stroke-width="1.3" />
<line x1="535.4" y1="499.3" x2="670.1" y2="499.3" stroke="#141414" stroke-width="1.3" />
<line x1="535.4" y1="409.1" x2="538.4" y2="409.1" stroke="#141414" stroke-width="1.1" />
<text transform="translate(531.8,412.51)" font-size="9.6" text-anchor="end" fill="#1a1a1a" style="color:#1a1a1a" >1.5</text>
<line x1="535.4" y1="439.1" x2="538.4" y2="439.1" stroke="#141414" stroke-width="1.1" />
<text transform="translate(531.8,442.51)" font-size="9.6" text-anchor="end" fill="#1a1a1a" style="color:#1a1a1a" >0.0</text>
<line x1="535.4" y1="459.2" x2="538.4" y2="459.2" stroke="#141414" stroke-width="1.1" />
<text transform="translate(531.8,462.61)" font-size="9.6" text-anchor="end" fill="#1a1a1a" style="color:#1a1a1a" >1.5</text>
<line x1="535.4" y1="489.2" x2="538.4" y2="489.2" stroke="#141414" stroke-width="1.1" />
<text transform="translate(531.8,492.61)" font-size="9.6" text-anchor="end" fill="#1a1a1a" style="color:#1a1a1a" >0.0</text>
<line x1="535.4" y1="501.6" x2="538.4" y2="501.6" stroke="#141414" stroke-width="1.1" />
<text transform="translate(531.8,505.01)" font-size="9.6" text-anchor="end" fill="#1a1a1a" style="color:#1a1a1a" >-0.8</text>
<line x1="535.4" y1="520.75" x2="538.4" y2="520.75" stroke="#141414" stroke-width="1.1" />
<text transform="translate(531.8,524.16)" font-size="9.6" text-anchor="end" fill="#1a1a1a" style="color:#1a1a1a" >-0.4</text>
<line x1="535.4" y1="539.9" x2="538.4" y2="539.9" stroke="#141414" stroke-width="1.1" />
<text transform="translate(531.8,543.31)" font-size="9.6" text-anchor="end" fill="#1a1a1a" style="color:#1a1a1a" >0.0</text>
<line x1="535.4" y1="511.17" x2="537.2" y2="511.17" stroke="#141414" stroke-width="1.1" />
<line x1="535.4" y1="530.32" x2="537.2" y2="530.32" stroke="#141414" stroke-width="1.1" />
<line x1="535.4" y1="549.48" x2="537.2" y2="549.48" stroke="#141414" stroke-width="1.1" />
<line x1="535.4" y1="548.9" x2="535.4" y2="545.9" stroke="#141414" stroke-width="1.1" />
<line x1="547.43" y1="548.9" x2="547.43" y2="547.1" stroke="#141414" stroke-width="1.1" />
<line x1="559.45" y1="548.9" x2="559.45" y2="545.9" stroke="#141414" stroke-width="1.1" />
<line x1="571.48" y1="548.9" x2="571.48" y2="547.1" stroke="#141414" stroke-width="1.1" />
<line x1="583.51" y1="548.9" x2="583.51" y2="545.9" stroke="#141414" stroke-width="1.1" />
<line x1="595.53" y1="548.9" x2="595.53" y2="547.1" stroke="#141414" stroke-width="1.1" />
<line x1="607.56" y1="548.9" x2="607.56" y2="545.9" stroke="#141414" stroke-width="1.1" />
<line x1="619.59" y1="548.9" x2="619.59" y2="547.1" stroke="#141414" stroke-width="1.1" />
<line x1="631.61" y1="548.9" x2="631.61" y2="545.9" stroke="#141414" stroke-width="1.1" />
<line x1="643.64" y1="548.9" x2="643.64" y2="547.1" stroke="#141414" stroke-width="1.1" />
<line x1="655.67" y1="548.9" x2="655.67" y2="545.9" stroke="#141414" stroke-width="1.1" />
<line x1="667.69" y1="548.9" x2="667.69" y2="547.1" stroke="#141414" stroke-width="1.1" />
<line x1="583.51" y1="449.2" x2="583.51" y2="446.7" stroke="#141414" stroke-width="1.1" />
<line x1="583.51" y1="499.3" x2="583.51" y2="496.8" stroke="#141414" stroke-width="1.1" />
<line x1="631.61" y1="449.2" x2="631.61" y2="446.7" stroke="#141414" stroke-width="1.1" />
<line x1="631.61" y1="499.3" x2="631.61" y2="496.8" stroke="#141414" stroke-width="1.1" />
<text transform="translate(535.4,560.71)" font-size="9.6" text-anchor="middle" fill="#1a1a1a" style="color:#1a1a1a" >0</text>
<text transform="translate(559.45,560.71)" font-size="9.6" text-anchor="middle" fill="#1a1a1a" style="color:#1a1a1a" >5</text>
<text transform="translate(583.51,560.71)" font-size="9.6" text-anchor="middle" fill="#1a1a1a" style="color:#1a1a1a" >10</text>
<text transform="translate(607.56,560.71)" font-size="9.6" text-anchor="middle" fill="#1a1a1a" style="color:#1a1a1a" >15</text>
<text transform="translate(631.61,560.71)" font-size="9.6" text-anchor="middle" fill="#1a1a1a" style="color:#1a1a1a" >20</text>
<text transform="translate(655.67,560.71)" font-size="9.6" text-anchor="middle" fill="#1a1a1a" style="color:#1a1a1a" >25</text>
<text transform="translate(602.75,571.6)" font-size="10.1" text-anchor="middle" fill="#1a1a1a" style="color:#1a1a1a" >Time (s)</text>
<text transform="translate(512.7,424.15) rotate(-90)" font-size="9.8" text-anchor="middle" fill="#1a1a1a" style="color:#1a1a1a" >V<tspan font-size="6.66" dy="2.45">IN-A</tspan><tspan dy="-2.45">&#8203;</tspan> (V)</text>
<text transform="translate(512.7,474.25) rotate(-90)" font-size="9.8" text-anchor="middle" fill="#1a1a1a" style="color:#1a1a1a" >V<tspan font-size="6.66" dy="2.45">IN-B</tspan><tspan dy="-2.45">&#8203;</tspan> (V)</text>
<text transform="translate(509.8,524.1) rotate(-90)" font-size="9.8" text-anchor="middle" fill="#1a1a1a" style="color:#1a1a1a" >V<tspan font-size="6.66" dy="2.45">OUT</tspan><tspan dy="-2.45">&#8203;</tspan> (V)</text>
<text transform="translate(2.9,398.4) scale(1,1.06)" font-size="17.4" text-anchor="start" fill="#1a1a1a" style="color:#1a1a1a" >(h)</text>
<text transform="translate(357,400.5) scale(1,1.06)" font-size="17.4" text-anchor="start" fill="#1a1a1a" style="color:#1a1a1a" >(g)</text>
<path d="M99.7,401.3 H61.6 V482.8 H99.7 A32.3,40.75 0 0 0 99.7,401.3" fill="none" stroke="#48b4ea" stroke-width="1.5"/>
<circle cx="135" cy="441.9" r="2.6" fill="#fff" stroke="#48b4ea" stroke-width="1.2"/>
<path d="M137.6,441.9 H155.7" fill="none" stroke="#1e1e1e" stroke-width="1.4" stroke-linejoin="miter"/>
<path d="M46.3,421.2 H68.2 V433.9 H72.4" fill="none" stroke="#1e1e1e" stroke-width="1.4" stroke-linejoin="miter"/>
<path d="M104.7,433.9 H115.5 V453.8 H49.6" fill="none" stroke="#1e1e1e" stroke-width="1.4" stroke-linejoin="miter"/>
<path d="M84.6,411.3 H93.8 M89.2,411.3 V422 M81.3,426 V422 H96.4 V426" fill="none" stroke="#1e1e1e" stroke-width="1.4" stroke-linejoin="miter"/>
<path d="M81.3,440 V444.9 H96.4 V440 M89.2,444.9 V461.2" fill="none" stroke="#1e1e1e" stroke-width="1.4" stroke-linejoin="miter"/>
<path d="M89.2,458.4 H122.9 V441.9 H132.4" fill="none" stroke="#1e1e1e" stroke-width="1.4" stroke-linejoin="miter"/>
<rect x="72.2" y="425.3" width="13.7" height="15.3" rx="2.6" fill="#d5e7f6" stroke="#1e1e1e" stroke-width="1.1"/>
<path d="M81.38,424.8 V429.58 H77.95 V436.32 H81.38 V441.1" fill="none" stroke="#1e1e1e" stroke-width="1.0" stroke-linejoin="miter"/>
<path d="M76.35,429.89 V436.01" fill="none" stroke="#1e1e1e" stroke-width="1.0" stroke-linejoin="miter"/>
<path d="M72.2,432.95 H76.35" fill="none" stroke="#1e1e1e" stroke-width="1.0" stroke-linejoin="miter"/>
<path d="M76.55,432.95 l-2.2,-1.4 v2.8 z" fill="#1e1e1e"/>
<rect x="91.8" y="425.3" width="13.7" height="15.3" rx="2.6" fill="#d5e7f6" stroke="#1e1e1e" stroke-width="1.1"/>
<path d="M96.32,424.8 V429.58 H99.75 V436.32 H96.32 V441.1" fill="none" stroke="#1e1e1e" stroke-width="1.0" stroke-linejoin="miter"/>
<path d="M101.35,429.89 V436.01" fill="none" stroke="#1e1e1e" stroke-width="1.0" stroke-linejoin="miter"/>
<path d="M105.5,432.95 H101.35" fill="none" stroke="#1e1e1e" stroke-width="1.0" stroke-linejoin="miter"/>
<path d="M101.15,432.95 l2.2,-1.4 v2.8 z" fill="#1e1e1e"/>
<rect x="87.3" y="449.4" width="3.6" height="5.3" fill="#555" stroke="#1e1e1e" stroke-width="0.8"/>
<rect x="86.8" y="461.2" width="4.6" height="7.2" rx="1" fill="#fff" stroke="#1e1e1e" stroke-width="1.1"/>
<path d="M89.2,468.4 V475.6 M84.0,475.6 H93.6 M86.0,477.6 H91.6" fill="none" stroke="#1e1e1e" stroke-width="1.4" stroke-linejoin="miter"/>
<text transform="translate(95,411.8)" font-size="10.2" text-anchor="start" fill="#1e1e1e" style="color:#1e1e1e" >V<tspan font-size="5.92" dy="3.06">D</tspan><tspan dy="-3.06">&#8203;</tspan></text>
<text transform="translate(94.4,473.8)" font-size="10.2" text-anchor="start" fill="#1e1e1e" style="color:#1e1e1e" >V<tspan font-size="5.92" dy="3.06">S</tspan><tspan dy="-3.06">&#8203;</tspan></text>
<text transform="translate(141.1,436.8)" font-size="9.7" text-anchor="start" fill="#1e1e1e" style="color:#1e1e1e" >Output</text>
<text transform="translate(29.9,418.6)" font-size="9.7" text-anchor="start" fill="#1e1e1e" style="color:#1e1e1e" >Input A</text>
<text transform="translate(29.9,452.2)" font-size="9.7" text-anchor="start" fill="#1e1e1e" style="color:#1e1e1e" >Input B</text>
<line x1="80.5" y1="503.9" x2="80.5" y2="555.5" stroke="#1e1e1e" stroke-width="1.3" />
<line x1="58.1" y1="517.3" x2="117.7" y2="517.3" stroke="#1e1e1e" stroke-width="1.3" />
<text transform="translate(60.1,512.3)" font-size="10.5" text-anchor="start" fill="#1e1e1e" style="color:#1e1e1e" >V<tspan font-size="6.3" dy="2.62">OUT</tspan><tspan dy="-2.62">&#8203;</tspan></text>
<text transform="translate(91.5,514.06)" font-size="10.3" text-anchor="middle" fill="#1a1a1a" style="color:#1a1a1a" >0</text>
<text transform="translate(110,514.06)" font-size="10.3" text-anchor="middle" fill="#1a1a1a" style="color:#1a1a1a" >1</text>
<text transform="translate(67.7,532.06)" font-size="10.3" text-anchor="middle" fill="#1a1a1a" style="color:#1a1a1a" >0</text>
<text transform="translate(91.5,532.06)" font-size="10.3" text-anchor="middle" fill="#1a1a1a" style="color:#1a1a1a" >1</text>
<text transform="translate(110,532.06)" font-size="10.3" text-anchor="middle" fill="#1a1a1a" style="color:#1a1a1a" >1</text>
<text transform="translate(67.7,551.26)" font-size="10.3" text-anchor="middle" fill="#1a1a1a" style="color:#1a1a1a" >1</text>
<text transform="translate(91.5,551.26)" font-size="10.3" text-anchor="middle" fill="#1a1a1a" style="color:#1a1a1a" >1</text>
<text transform="translate(110,551.26)" font-size="10.3" text-anchor="middle" fill="#1a1a1a" style="color:#1a1a1a" >0</text>
<line x1="424.1" y1="500.4" x2="424.1" y2="552.4" stroke="#1e1e1e" stroke-width="1.3" />
<line x1="401" y1="517.5" x2="461" y2="517.5" stroke="#1e1e1e" stroke-width="1.3" />
<text transform="translate(401.7,512.3)" font-size="10.5" text-anchor="start" fill="#1e1e1e" style="color:#1e1e1e" >V<tspan font-size="6.3" dy="2.62">OUT</tspan><tspan dy="-2.62">&#8203;</tspan></text>
<text transform="translate(433.3,514.06)" font-size="10.3" text-anchor="middle" fill="#1a1a1a" style="color:#1a1a1a" >0</text>
<text transform="translate(452.1,514.06)" font-size="10.3" text-anchor="middle" fill="#1a1a1a" style="color:#1a1a1a" >1</text>
<text transform="translate(409.3,532.06)" font-size="10.3" text-anchor="middle" fill="#1a1a1a" style="color:#1a1a1a" >0</text>
<text transform="translate(433.3,532.06)" font-size="10.3" text-anchor="middle" fill="#1a1a1a" style="color:#1a1a1a" >1</text>
<text transform="translate(452.1,532.06)" font-size="10.3" text-anchor="middle" fill="#1a1a1a" style="color:#1a1a1a" >0</text>
<text transform="translate(409.3,550.86)" font-size="10.3" text-anchor="middle" fill="#1a1a1a" style="color:#1a1a1a" >1</text>
<text transform="translate(433.3,550.86)" font-size="10.3" text-anchor="middle" fill="#1a1a1a" style="color:#1a1a1a" >0</text>
<text transform="translate(452.1,550.86)" font-size="10.3" text-anchor="middle" fill="#1a1a1a" style="color:#1a1a1a" >0</text>
<path d="M397.4,400 C430,402 455,420 467,443.8 C455,467.6 430,485 397.4,486.9 Q425.6,443.4 397.4,400 Z" fill="none" stroke="#c59ff0" stroke-width="1.5"/>
<circle cx="470.2" cy="443.8" r="2.7" fill="#fff" stroke="#c59ff0" stroke-width="1.2"/>
<path d="M473,443.8 H480.2" fill="none" stroke="#1e1e1e" stroke-width="1.4" stroke-linejoin="miter"/>
<path d="M393,425.6 H419.8 V432.7 H423.9" fill="none" stroke="#1e1e1e" stroke-width="1.4" stroke-linejoin="miter"/>
<path d="M393,450.1 H423.9" fill="none" stroke="#1e1e1e" stroke-width="1.4" stroke-linejoin="miter"/>
<path d="M429.7,418.2 H438 M433.5,418.2 V424.8" fill="none" stroke="#1e1e1e" stroke-width="1.4" stroke-linejoin="miter"/>
<path d="M433.5,439.4 V442.7 M433.5,457.1 V462" fill="none" stroke="#1e1e1e" stroke-width="1.4" stroke-linejoin="miter"/>
<path d="M433.5,458.7 H442.6 V443.8 H467.5" fill="none" stroke="#1e1e1e" stroke-width="1.4" stroke-linejoin="miter"/>
<rect x="423.9" y="424.8" width="14.1" height="14.6" rx="2.6" fill="#dfd0f6" stroke="#1e1e1e" stroke-width="1.1"/>
<path d="M433.35,424.3 V428.89 H429.82 V435.31 H433.35 V439.9" fill="none" stroke="#1e1e1e" stroke-width="1.0" stroke-linejoin="miter"/>
<path d="M428.22,429.18 V435.02" fill="none" stroke="#1e1e1e" stroke-width="1.0" stroke-linejoin="miter"/>
<path d="M423.9,432.1 H428.22" fill="none" stroke="#1e1e1e" stroke-width="1.0" stroke-linejoin="miter"/>
<path d="M428.42,432.1 l-2.2,-1.4 v2.8 z" fill="#1e1e1e"/>
<rect x="423.9" y="442.7" width="14.1" height="14.4" rx="2.6" fill="#dfd0f6" stroke="#1e1e1e" stroke-width="1.1"/>
<path d="M433.35,442.2 V446.73 H429.82 V453.07 H433.35 V457.6" fill="none" stroke="#1e1e1e" stroke-width="1.0" stroke-linejoin="miter"/>
<path d="M428.22,447.02 V452.78" fill="none" stroke="#1e1e1e" stroke-width="1.0" stroke-linejoin="miter"/>
<path d="M423.9,449.9 H428.22" fill="none" stroke="#1e1e1e" stroke-width="1.0" stroke-linejoin="miter"/>
<path d="M428.42,449.9 l-2.2,-1.4 v2.8 z" fill="#1e1e1e"/>
<rect x="431.3" y="462" width="4.4" height="8.3" rx="1" fill="#fff" stroke="#1e1e1e" stroke-width="1.1"/>
<path d="M433.5,470.3 V474.4 M429.7,474.4 H438 M431.2,476.7 H436" fill="none" stroke="#1e1e1e" stroke-width="1.4" stroke-linejoin="miter"/>
<text transform="translate(418.6,414.2)" font-size="10.2" text-anchor="start" fill="#1e1e1e" style="color:#1e1e1e" >V<tspan font-size="5.92" dy="3.06">D</tspan><tspan dy="-3.06">&#8203;</tspan></text>
<text transform="translate(418,474.2)" font-size="10.2" text-anchor="start" fill="#1e1e1e" style="color:#1e1e1e" >V<tspan font-size="5.92" dy="3.06">S</tspan><tspan dy="-3.06">&#8203;</tspan></text>
<text transform="translate(472,440.6)" font-size="9.7" text-anchor="start" fill="#1e1e1e" style="color:#1e1e1e" >Output</text>
<text transform="translate(370.7,424)" font-size="9.7" text-anchor="start" fill="#1e1e1e" style="color:#1e1e1e" >Input A</text>
<text transform="translate(370.7,458.7)" font-size="9.7" text-anchor="start" fill="#1e1e1e" style="color:#1e1e1e" >Input B</text>
</svg></body></html>
